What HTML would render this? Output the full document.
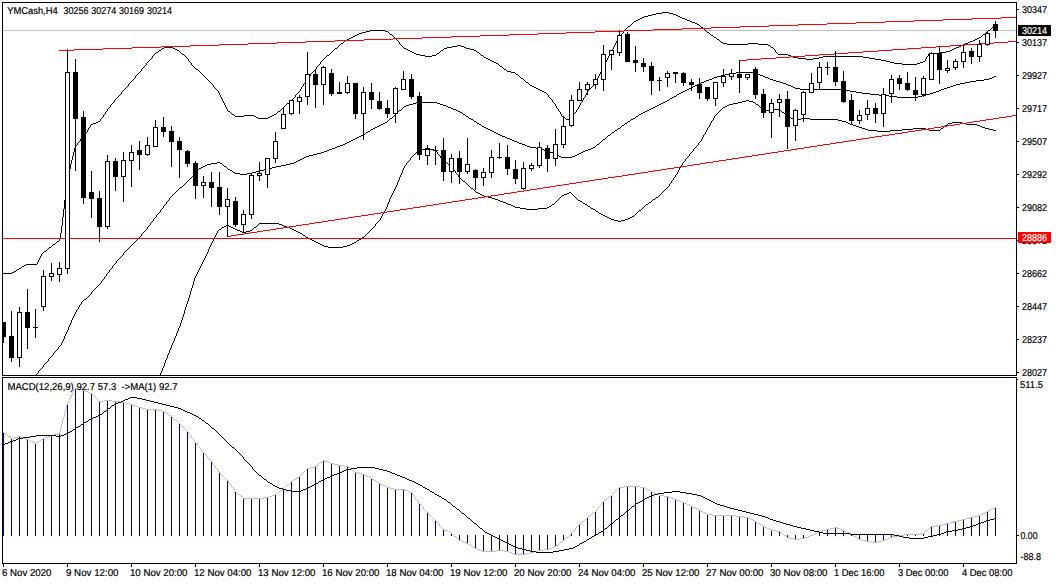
<!DOCTYPE html>
<html><head><meta charset="utf-8"><title>YMCash H4</title>
<style>html,body{margin:0;padding:0;background:#fff;}body{width:1057px;height:584px;overflow:hidden;}svg{display:block;}text{font-family:"Liberation Sans",sans-serif;font-size:10px;fill:#000;text-rendering:geometricPrecision;stroke:#000;stroke-width:0.2px;}</style>
</head><body>
<svg width="1057" height="584" viewBox="0 0 1057 584">
<rect x="0" y="0" width="1057" height="584" fill="#fff"/>
<g shape-rendering="crispEdges">
<rect x="3" y="30" width="1013" height="1" fill="#c0c0c0"/>
<path d="M3 273h9v1h-9zM12 272h2v1h-2zM14 271h2v1h-2zM16 270h1v1h-1zM17 269h2v1h-2zM19 268h2v1h-2zM21 267h1v1h-1zM22 266h2v1h-2zM24 265h2v1h-2zM26 264h11v1h-11zM37 262v2h1v-2zM38 260v2h1v-2zM39 258v2h1v-2zM40 256v2h1v-2zM41 254v2h1v-2zM42 253h1v1h-1zM43 252h1v1h-1zM44 251h2v1h-2zM46 250h1v1h-1zM47 249h1v1h-1zM48 248h1v1h-1zM49 247h2v1h-2zM51 246h1v1h-1zM52 245h1v1h-1zM53 244h2v1h-2zM55 243h1v1h-1zM56 242h1v1h-1zM57 241h2v1h-2zM59 238v3h1v-3zM60 233v5h1v-5zM61 226v7h1v-7zM62 217v9h1v-9zM63 209v8h1v-8zM64 200v9h1v-9zM65 193v7h1v-7zM66 187v6h1v-6zM67 181v6h1v-6zM68 175v6h1v-6zM69 169v6h1v-6zM70 164v5h1v-5zM71 160v4h1v-4zM72 156v4h1v-4zM73 152v4h1v-4zM74 148v4h1v-4zM75 146v2h1v-2zM76 145h1v1h-1zM77 143v2h1v-2zM78 142h1v1h-1zM79 141h1v1h-1zM80 139v2h1v-2zM81 138h1v1h-1zM82 137h1v1h-1zM83 136h1v1h-1zM84 134v2h1v-2zM85 133h1v1h-1zM86 132h1v1h-1zM87 130v2h1v-2zM88 128v2h1v-2zM89 127h1v1h-1zM90 125v2h1v-2zM91 124h2v1h-2zM93 123h3v1h-3zM96 122h2v1h-2zM98 121h2v1h-2zM100 119v2h1v-2zM101 118h1v1h-1zM102 117h1v1h-1zM103 115v2h1v-2zM104 114h1v1h-1zM105 112v2h1v-2zM106 111h1v1h-1zM107 109v2h1v-2zM108 108h1v1h-1zM109 107h1v1h-1zM110 105v2h1v-2zM111 104h1v1h-1zM112 103h1v1h-1zM113 102h1v1h-1zM114 100v2h1v-2zM115 99h1v1h-1zM116 98h1v1h-1zM117 97h1v1h-1zM118 96h1v1h-1zM119 95h1v1h-1zM120 94h1v1h-1zM121 92v2h1v-2zM122 91h1v1h-1zM123 90h1v1h-1zM124 89h1v1h-1zM125 88h1v1h-1zM126 87h1v1h-1zM127 86h1v1h-1zM128 84v2h1v-2zM129 83h1v1h-1zM130 82h1v1h-1zM131 81h1v1h-1zM132 80h1v1h-1zM133 79h1v1h-1zM134 78h1v1h-1zM135 76v2h1v-2zM136 75h1v1h-1zM137 74h1v1h-1zM138 73h1v1h-1zM139 72h1v1h-1zM140 71h1v1h-1zM141 69v2h1v-2zM142 68h1v1h-1zM143 67h1v1h-1zM144 66h1v1h-1zM145 65h1v1h-1zM146 63v2h1v-2zM147 62h1v1h-1zM148 61h1v1h-1zM149 60h1v1h-1zM150 59h1v1h-1zM151 58h1v1h-1zM152 56v2h1v-2zM153 55h1v1h-1zM154 54h1v1h-1zM155 53h1v1h-1zM156 52h2v1h-2zM158 51h1v1h-1zM159 50h2v1h-2zM161 49h1v1h-1zM162 48h2v1h-2zM164 47h9v1h-9zM173 48h2v1h-2zM175 49h2v1h-2zM177 50h2v1h-2zM179 51h1v1h-1zM180 52h1v1h-1zM181 53h1v1h-1zM182 54h2v1h-2zM184 55h1v1h-1zM185 56h1v1h-1zM186 57h1v1h-1zM187 58h1v1h-1zM188 59v2h1v-2zM189 61h1v1h-1zM190 62h1v1h-1zM191 63v2h1v-2zM192 65h1v1h-1zM193 66h1v1h-1zM194 67h1v1h-1zM195 68h1v1h-1zM196 69h2v1h-2zM198 70h1v1h-1zM199 71h1v1h-1zM200 72h1v1h-1zM201 73h1v1h-1zM202 74h1v1h-1zM203 75h1v1h-1zM204 76h1v1h-1zM205 77h1v1h-1zM206 78h1v1h-1zM207 79h1v1h-1zM208 80h1v1h-1zM209 81h1v1h-1zM210 82h1v1h-1zM211 83h1v1h-1zM212 84h1v1h-1zM213 85v2h1v-2zM214 87h1v1h-1zM215 88h1v1h-1zM216 89h1v1h-1zM217 90h1v1h-1zM218 91v2h1v-2zM219 93v2h1v-2zM220 95v2h1v-2zM221 97v2h1v-2zM222 99v2h1v-2zM223 101v2h1v-2zM224 103v2h1v-2zM225 105v2h1v-2zM226 107v2h1v-2zM227 109v2h1v-2zM228 111h2v1h-2zM230 112h1v1h-1zM231 113h1v1h-1zM232 114h2v1h-2zM234 115h1v1h-1zM235 116h9v1h-9zM244 115h10v1h-10zM254 116h2v1h-2zM256 117h2v1h-2zM258 118h10v1h-10zM268 117h2v1h-2zM270 116h2v1h-2zM272 115h2v1h-2zM274 114h2v1h-2zM276 113h1v1h-1zM277 112h1v1h-1zM278 111h2v1h-2zM280 110h1v1h-1zM281 109h1v1h-1zM282 108h1v1h-1zM283 107h1v1h-1zM284 106h1v1h-1zM285 105h1v1h-1zM286 104h1v1h-1zM287 103h2v1h-2zM289 102h1v1h-1zM290 101h1v1h-1zM291 100h1v1h-1zM292 99h1v1h-1zM293 98h1v1h-1zM294 97h1v1h-1zM295 95v2h1v-2zM296 94h1v1h-1zM297 93h1v1h-1zM298 92h1v1h-1zM299 91h1v1h-1zM300 89v2h1v-2zM301 87v2h1v-2zM302 86h1v1h-1zM303 84v2h1v-2zM304 83h1v1h-1zM305 81v2h1v-2zM306 79v2h1v-2zM307 78h1v1h-1zM308 77h1v1h-1zM309 76h1v1h-1zM310 74v2h1v-2zM311 73h1v1h-1zM312 72h1v1h-1zM313 71h1v1h-1zM314 70h1v1h-1zM315 69h1v1h-1zM316 67v2h1v-2zM317 66h1v1h-1zM318 65h1v1h-1zM319 64h1v1h-1zM320 62v2h1v-2zM321 61h1v1h-1zM322 60h1v1h-1zM323 59h1v1h-1zM324 58h1v1h-1zM325 57h1v1h-1zM326 56h1v1h-1zM327 55h2v1h-2zM329 54h1v1h-1zM330 53h1v1h-1zM331 52h1v1h-1zM332 51h1v1h-1zM333 50h1v1h-1zM334 49h1v1h-1zM335 48h2v1h-2zM337 47h1v1h-1zM338 46h1v1h-1zM339 45h1v1h-1zM340 44h1v1h-1zM341 43h2v1h-2zM343 42h1v1h-1zM344 41h1v1h-1zM345 40h2v1h-2zM347 39h2v1h-2zM349 38h2v1h-2zM351 37h2v1h-2zM353 36h2v1h-2zM355 35h2v1h-2zM357 34h2v1h-2zM359 33h3v1h-3zM362 32h4v1h-4zM366 31h4v1h-4zM370 30h15v1h-15zM385 31h3v1h-3zM388 32h1v1h-1zM389 33h1v1h-1zM390 34h2v1h-2zM392 35h1v1h-1zM393 36h1v1h-1zM394 37h1v1h-1zM395 38h1v1h-1zM396 39h1v1h-1zM397 40h1v1h-1zM398 41h1v1h-1zM399 42v2h1v-2zM400 44h1v1h-1zM401 45h1v1h-1zM402 46h1v1h-1zM403 47h1v1h-1zM404 48h2v1h-2zM406 49h2v1h-2zM408 50h2v1h-2zM410 51h2v1h-2zM412 52h2v1h-2zM414 53h2v1h-2zM416 54h4v1h-4zM420 55h5v1h-5zM425 56h7v1h-7zM432 55h4v1h-4zM436 54h1v1h-1zM437 53h2v1h-2zM439 52h1v1h-1zM440 51h1v1h-1zM441 50h2v1h-2zM443 49h1v1h-1zM444 48h3v1h-3zM447 47h5v1h-5zM452 46h5v1h-5zM457 45h4v1h-4zM461 46h3v1h-3zM464 47h2v1h-2zM466 48h4v1h-4zM470 49h4v1h-4zM474 50h2v1h-2zM476 51h1v1h-1zM477 52h2v1h-2zM479 53h1v1h-1zM480 54h1v1h-1zM481 55h2v1h-2zM483 56h1v1h-1zM484 57h2v1h-2zM486 58h2v1h-2zM488 59h2v1h-2zM490 60h2v1h-2zM492 61h2v1h-2zM494 62h2v1h-2zM496 63h2v1h-2zM498 64h1v1h-1zM499 65h1v1h-1zM500 66h2v1h-2zM502 67h1v1h-1zM503 68h1v1h-1zM504 69h2v1h-2zM506 70h1v1h-1zM507 71h4v1h-4zM511 72h4v1h-4zM515 73h1v1h-1zM516 74h2v1h-2zM518 75h1v1h-1zM519 76h1v1h-1zM520 77h1v1h-1zM521 78h2v1h-2zM523 79h1v1h-1zM524 80h1v1h-1zM525 81h1v1h-1zM526 82h2v1h-2zM528 83h1v1h-1zM529 84h1v1h-1zM530 85h2v1h-2zM532 86h2v1h-2zM534 87h2v1h-2zM536 88h2v1h-2zM538 89h2v1h-2zM540 90h2v1h-2zM542 91h2v1h-2zM544 92h2v1h-2zM546 93h1v1h-1zM547 94h1v1h-1zM548 95v2h1v-2zM549 97h1v1h-1zM550 98h1v1h-1zM551 99h1v1h-1zM552 100v2h1v-2zM553 102h1v1h-1zM554 103h1v1h-1zM555 104v2h1v-2zM556 106v2h1v-2zM557 108h1v1h-1zM558 109v2h1v-2zM559 111h1v1h-1zM560 112v2h1v-2zM561 114v2h1v-2zM562 116h1v1h-1zM563 117h2v1h-2zM565 118h1v1h-1zM566 119h5v1h-5zM571 117v2h1v-2zM572 116h1v1h-1zM573 114v2h1v-2zM574 113h1v1h-1zM575 112h1v1h-1zM576 110v2h1v-2zM577 109h1v1h-1zM578 107v2h1v-2zM579 105v2h1v-2zM580 103v2h1v-2zM581 102h1v1h-1zM582 100v2h1v-2zM583 98v2h1v-2zM584 97h1v1h-1zM585 95v2h1v-2zM586 93v2h1v-2zM587 91v2h1v-2zM588 90h1v1h-1zM589 89h1v1h-1zM590 88h1v1h-1zM591 87h1v1h-1zM592 86h1v1h-1zM593 85h1v1h-1zM594 84h1v1h-1zM595 82v2h1v-2zM596 80v2h1v-2zM597 78v2h1v-2zM598 76v2h1v-2zM599 74v2h1v-2zM600 72v2h1v-2zM601 70v2h1v-2zM602 68v2h1v-2zM603 66v2h1v-2zM604 64v2h1v-2zM605 62v2h1v-2zM606 60v2h1v-2zM607 58v2h1v-2zM608 56v2h1v-2zM609 54v2h1v-2zM610 52v2h1v-2zM611 50v2h1v-2zM612 49h1v1h-1zM613 47v2h1v-2zM614 45v2h1v-2zM615 43v2h1v-2zM616 41v2h1v-2zM617 40h1v1h-1zM618 38v2h1v-2zM619 37h1v1h-1zM620 35v2h1v-2zM621 34h1v1h-1zM622 33h1v1h-1zM623 31v2h1v-2zM624 30h1v1h-1zM625 29h1v1h-1zM626 28h1v1h-1zM627 27h1v1h-1zM628 26h2v1h-2zM630 25h1v1h-1zM631 24h1v1h-1zM632 23h1v1h-1zM633 22h1v1h-1zM634 21h2v1h-2zM636 20h2v1h-2zM638 19h2v1h-2zM640 18h2v1h-2zM642 17h2v1h-2zM644 16h4v1h-4zM648 15h4v1h-4zM652 14h4v1h-4zM656 13h6v1h-6zM662 12h7v1h-7zM669 13h4v1h-4zM673 14h3v1h-3zM676 15h2v1h-2zM678 16h2v1h-2zM680 17h2v1h-2zM682 18h3v1h-3zM685 19h2v1h-2zM687 20h3v1h-3zM690 21h2v1h-2zM692 22h3v1h-3zM695 23h2v1h-2zM697 24h2v1h-2zM699 25h1v1h-1zM700 26h1v1h-1zM701 27h2v1h-2zM703 28h1v1h-1zM704 29h1v1h-1zM705 30h1v1h-1zM706 31h1v1h-1zM707 32h2v1h-2zM709 33h1v1h-1zM710 34h1v1h-1zM711 35h2v1h-2zM713 36h1v1h-1zM714 37h2v1h-2zM716 38h1v1h-1zM717 39h2v1h-2zM719 40h1v1h-1zM720 41h1v1h-1zM721 42h2v1h-2zM723 43h4v1h-4zM727 44h21v1h-21zM748 43h10v1h-10zM758 44h10v1h-10zM768 45h2v1h-2zM770 46h1v1h-1zM771 47h2v1h-2zM773 48h1v1h-1zM774 49h1v1h-1zM775 50v2h1v-2zM776 52h1v1h-1zM777 53h1v1h-1zM778 54h10v1h-10zM788 55h3v1h-3zM791 56h2v1h-2zM793 57h5v1h-5zM798 58h8v1h-8zM806 59h7v1h-7zM813 58h6v1h-6zM819 57h4v1h-4zM823 56h40v1h-40zM863 57h6v1h-6zM869 58h6v1h-6zM875 59h6v1h-6zM881 60h5v1h-5zM886 61h4v1h-4zM890 62h4v1h-4zM894 63h8v1h-8zM902 64h15v1h-15zM917 63h3v1h-3zM920 62h3v1h-3zM923 61h2v1h-2zM925 59v2h1v-2zM926 57v2h1v-2zM927 56h1v1h-1zM928 54v2h1v-2zM929 53h11v1h-11zM940 52h6v1h-6zM946 51h4v1h-4zM950 50h2v1h-2zM952 49h2v1h-2zM954 48h2v1h-2zM956 47h3v1h-3zM959 46h2v1h-2zM961 45h2v1h-2zM963 44h2v1h-2zM965 43h3v1h-3zM968 42h2v1h-2zM970 41h3v1h-3zM973 40h2v1h-2zM975 39h2v1h-2zM977 38h2v1h-2zM979 37h2v1h-2zM981 36h1v1h-1zM982 35h1v1h-1zM983 34h2v1h-2zM985 33h1v1h-1zM986 32h1v1h-1zM987 31h1v1h-1zM988 30h2v1h-2zM990 29h1v1h-1zM991 28h1v1h-1zM992 27h2v1h-2zM994 26h1v1h-1zM995 25h1v1h-1z" fill="#000"/>
<path d="M36 374h1v1h-1zM37 373h1v1h-1zM38 371v2h1v-2zM39 370h1v1h-1zM40 369h1v1h-1zM41 368h1v1h-1zM42 367h1v1h-1zM43 365v2h1v-2zM44 364h1v1h-1zM45 363h1v1h-1zM46 362h1v1h-1zM47 361h1v1h-1zM48 359v2h1v-2zM49 358h1v1h-1zM50 357h1v1h-1zM51 356h1v1h-1zM52 355h1v1h-1zM53 353v2h1v-2zM54 352h1v1h-1zM55 351h1v1h-1zM56 350h1v1h-1zM57 349h1v1h-1zM58 347v2h1v-2zM59 346h1v1h-1zM60 345h1v1h-1zM61 343v2h1v-2zM62 341v2h1v-2zM63 339v2h1v-2zM64 336v3h1v-3zM65 334v2h1v-2zM66 332v2h1v-2zM67 330v2h1v-2zM68 327v3h1v-3zM69 325v2h1v-2zM70 323v2h1v-2zM71 320v3h1v-3zM72 318v2h1v-2zM73 316v2h1v-2zM74 314v2h1v-2zM75 312v2h1v-2zM76 310v2h1v-2zM77 309h1v1h-1zM78 307v2h1v-2zM79 305v2h1v-2zM80 304h1v1h-1zM81 302v2h1v-2zM82 301h1v1h-1zM83 300h1v1h-1zM84 299h2v1h-2zM86 298h1v1h-1zM87 297h1v1h-1zM88 296h1v1h-1zM89 295h1v1h-1zM90 294h1v1h-1zM91 292v2h1v-2zM92 291h1v1h-1zM93 290h1v1h-1zM94 289h1v1h-1zM95 288h1v1h-1zM96 287h1v1h-1zM97 286h1v1h-1zM98 285h1v1h-1zM99 284h1v1h-1zM100 283h1v1h-1zM101 281v2h1v-2zM102 280h1v1h-1zM103 279h1v1h-1zM104 277v2h1v-2zM105 276h1v1h-1zM106 274v2h1v-2zM107 273h1v1h-1zM108 272h1v1h-1zM109 270v2h1v-2zM110 269h1v1h-1zM111 268h1v1h-1zM112 266v2h1v-2zM113 265h1v1h-1zM114 264h1v1h-1zM115 263h1v1h-1zM116 261v2h1v-2zM117 260h1v1h-1zM118 259h1v1h-1zM119 258h1v1h-1zM120 257h1v1h-1zM121 256h1v1h-1zM122 255h1v1h-1zM123 253v2h1v-2zM124 252h1v1h-1zM125 251h1v1h-1zM126 250h1v1h-1zM127 249h1v1h-1zM128 248h1v1h-1zM129 247h1v1h-1zM130 246h1v1h-1zM131 245h1v1h-1zM132 244h1v1h-1zM133 243h1v1h-1zM134 242h1v1h-1zM135 241h1v1h-1zM136 240h1v1h-1zM137 239h1v1h-1zM138 238h1v1h-1zM139 237h1v1h-1zM140 236h1v1h-1zM141 234v2h1v-2zM142 233h1v1h-1zM143 232h1v1h-1zM144 231h1v1h-1zM145 230h1v1h-1zM146 229h1v1h-1zM147 227v2h1v-2zM148 226h1v1h-1zM149 225h1v1h-1zM150 223v2h1v-2zM151 222h1v1h-1zM152 221h1v1h-1zM153 219v2h1v-2zM154 218h1v1h-1zM155 217h1v1h-1zM156 215v2h1v-2zM157 214h1v1h-1zM158 213h1v1h-1zM159 212h1v1h-1zM160 210v2h1v-2zM161 209h1v1h-1zM162 208h1v1h-1zM163 206v2h1v-2zM164 205h1v1h-1zM165 204h1v1h-1zM166 202v2h1v-2zM167 201h1v1h-1zM168 200h1v1h-1zM169 198v2h1v-2zM170 197h1v1h-1zM171 196h1v1h-1zM172 195h1v1h-1zM173 194h1v1h-1zM174 193h1v1h-1zM175 192h1v1h-1zM176 191h1v1h-1zM177 190h1v1h-1zM178 189h1v1h-1zM179 188h1v1h-1zM180 187h2v1h-2zM182 186h1v1h-1zM183 185h1v1h-1zM184 184h1v1h-1zM185 183h1v1h-1zM186 182h1v1h-1zM187 181h1v1h-1zM188 180h1v1h-1zM189 179h1v1h-1zM190 178h1v1h-1zM191 177h1v1h-1zM192 176h1v1h-1zM193 175h1v1h-1zM194 173v2h1v-2zM195 172h1v1h-1zM196 171h1v1h-1zM197 170h1v1h-1zM198 169h1v1h-1zM199 168h2v1h-2zM201 167h2v1h-2zM203 166h2v1h-2zM205 165h2v1h-2zM207 164h4v1h-4zM211 163h6v1h-6zM217 162h3v1h-3zM220 163h2v1h-2zM222 164h1v1h-1zM223 165h1v1h-1zM224 166h2v1h-2zM226 167h1v1h-1zM227 168h1v1h-1zM228 169h2v1h-2zM230 170h2v1h-2zM232 171h1v1h-1zM233 172h2v1h-2zM235 173h5v1h-5zM240 174h7v1h-7zM247 173h5v1h-5zM252 172h4v1h-4zM256 171h4v1h-4zM260 170h4v1h-4zM264 169h4v1h-4zM268 168h4v1h-4zM272 167h4v1h-4zM276 166h5v1h-5zM281 165h5v1h-5zM286 164h4v1h-4zM290 163h4v1h-4zM294 162h2v1h-2zM296 161h2v1h-2zM298 160h2v1h-2zM300 159h2v1h-2zM302 158h2v1h-2zM304 157h2v1h-2zM306 156h3v1h-3zM309 155h4v1h-4zM313 154h4v1h-4zM317 153h4v1h-4zM321 152h3v1h-3zM324 151h3v1h-3zM327 150h2v1h-2zM329 149h3v1h-3zM332 148h3v1h-3zM335 147h2v1h-2zM337 146h3v1h-3zM340 145h3v1h-3zM343 144h2v1h-2zM345 143h2v1h-2zM347 142h2v1h-2zM349 141h2v1h-2zM351 140h2v1h-2zM353 139h2v1h-2zM355 138h2v1h-2zM357 137h2v1h-2zM359 136h2v1h-2zM361 135h2v1h-2zM363 134h2v1h-2zM365 133h1v1h-1zM366 132h2v1h-2zM368 131h2v1h-2zM370 130h1v1h-1zM371 129h2v1h-2zM373 128h2v1h-2zM375 127h2v1h-2zM377 126h2v1h-2zM379 125h2v1h-2zM381 124h2v1h-2zM383 123h2v1h-2zM385 122h2v1h-2zM387 121h1v1h-1zM388 120h1v1h-1zM389 119h1v1h-1zM390 118h2v1h-2zM392 117h1v1h-1zM393 116h1v1h-1zM394 115h1v1h-1zM395 114h1v1h-1zM396 113h1v1h-1zM397 112h1v1h-1zM398 111h1v1h-1zM399 110h2v1h-2zM401 109h1v1h-1zM402 108h1v1h-1zM403 107h1v1h-1zM404 106h2v1h-2zM406 105h3v1h-3zM409 104h4v1h-4zM413 103h3v1h-3zM416 102h21v1h-21zM437 103h3v1h-3zM440 104h3v1h-3zM443 105h3v1h-3zM446 106h2v1h-2zM448 107h3v1h-3zM451 108h2v1h-2zM453 109h3v1h-3zM456 110h2v1h-2zM458 111h2v1h-2zM460 112h2v1h-2zM462 113h1v1h-1zM463 114h2v1h-2zM465 115h1v1h-1zM466 116h2v1h-2zM468 117h1v1h-1zM469 118h2v1h-2zM471 119h2v1h-2zM473 120h1v1h-1zM474 121h2v1h-2zM476 122h1v1h-1zM477 123h2v1h-2zM479 124h2v1h-2zM481 125h1v1h-1zM482 126h2v1h-2zM484 127h2v1h-2zM486 128h2v1h-2zM488 129h2v1h-2zM490 130h2v1h-2zM492 131h2v1h-2zM494 132h2v1h-2zM496 133h2v1h-2zM498 134h2v1h-2zM500 135h2v1h-2zM502 136h3v1h-3zM505 137h2v1h-2zM507 138h3v1h-3zM510 139h2v1h-2zM512 140h2v1h-2zM514 141h3v1h-3zM517 142h2v1h-2zM519 143h3v1h-3zM522 144h3v1h-3zM525 145h2v1h-2zM527 146h3v1h-3zM530 147h6v1h-6zM536 148h5v1h-5zM541 149h3v1h-3zM544 150h3v1h-3zM547 151h3v1h-3zM550 152h3v1h-3zM553 153h2v1h-2zM555 154h2v1h-2zM557 155h2v1h-2zM559 156h2v1h-2zM561 157h11v1h-11zM572 156h3v1h-3zM575 155h2v1h-2zM577 154h2v1h-2zM579 153h2v1h-2zM581 152h2v1h-2zM583 151h2v1h-2zM585 150h3v1h-3zM588 149h3v1h-3zM591 148h2v1h-2zM593 147h2v1h-2zM595 146h1v1h-1zM596 145h1v1h-1zM597 144h2v1h-2zM599 143h1v1h-1zM600 142h1v1h-1zM601 141h1v1h-1zM602 140h1v1h-1zM603 139h2v1h-2zM605 138h1v1h-1zM606 137h1v1h-1zM607 136h1v1h-1zM608 135h2v1h-2zM610 134h1v1h-1zM611 133h1v1h-1zM612 132h2v1h-2zM614 131h1v1h-1zM615 130h2v1h-2zM617 129h1v1h-1zM618 128h2v1h-2zM620 127h1v1h-1zM621 126h1v1h-1zM622 125h2v1h-2zM624 124h1v1h-1zM625 123h2v1h-2zM627 122h1v1h-1zM628 121h2v1h-2zM630 120h1v1h-1zM631 119h2v1h-2zM633 118h2v1h-2zM635 117h1v1h-1zM636 116h2v1h-2zM638 115h1v1h-1zM639 114h2v1h-2zM641 113h2v1h-2zM643 112h2v1h-2zM645 111h2v1h-2zM647 110h2v1h-2zM649 109h2v1h-2zM651 108h2v1h-2zM653 107h2v1h-2zM655 106h2v1h-2zM657 105h2v1h-2zM659 104h2v1h-2zM661 103h2v1h-2zM663 102h2v1h-2zM665 101h2v1h-2zM667 100h2v1h-2zM669 99h1v1h-1zM670 98h2v1h-2zM672 97h2v1h-2zM674 96h2v1h-2zM676 95h1v1h-1zM677 94h2v1h-2zM679 93h2v1h-2zM681 92h2v1h-2zM683 91h2v1h-2zM685 90h2v1h-2zM687 89h2v1h-2zM689 88h2v1h-2zM691 87h2v1h-2zM693 86h2v1h-2zM695 85h2v1h-2zM697 84h2v1h-2zM699 83h2v1h-2zM701 82h3v1h-3zM704 81h2v1h-2zM706 80h3v1h-3zM709 79h3v1h-3zM712 78h2v1h-2zM714 77h3v1h-3zM717 76h4v1h-4zM721 75h4v1h-4zM725 74h4v1h-4zM729 73h7v1h-7zM736 72h17v1h-17zM753 73h4v1h-4zM757 74h3v1h-3zM760 75h3v1h-3zM763 76h2v1h-2zM765 77h3v1h-3zM768 78h2v1h-2zM770 79h3v1h-3zM773 80h3v1h-3zM776 81h4v1h-4zM780 82h3v1h-3zM783 83h3v1h-3zM786 84h2v1h-2zM788 85h3v1h-3zM791 86h2v1h-2zM793 87h2v1h-2zM795 88h5v1h-5zM800 89h42v1h-42zM842 90h8v1h-8zM850 91h6v1h-6zM856 92h6v1h-6zM862 93h8v1h-8zM870 94h9v1h-9zM879 95h10v1h-10zM889 96h8v1h-8zM897 97h21v1h-21zM918 96h4v1h-4zM922 95h4v1h-4zM926 94h4v1h-4zM930 93h3v1h-3zM933 92h3v1h-3zM936 91h3v1h-3zM939 90h2v1h-2zM941 89h3v1h-3zM944 88h3v1h-3zM947 87h3v1h-3zM950 86h3v1h-3zM953 85h3v1h-3zM956 84h4v1h-4zM960 83h5v1h-5zM965 82h5v1h-5zM970 81h6v1h-6zM976 80h8v1h-8zM984 79h5v1h-5zM989 78h3v1h-3zM992 77h2v1h-2zM994 76h2v1h-2z" fill="#000"/>
<path d="M160 373v2h1v-2zM161 371v2h1v-2zM162 368v3h1v-3zM163 366v2h1v-2zM164 363v3h1v-3zM165 360v3h1v-3zM166 358v2h1v-2zM167 355v3h1v-3zM168 353v2h1v-2zM169 350v3h1v-3zM170 348v2h1v-2zM171 345v3h1v-3zM172 343v2h1v-2zM173 341v2h1v-2zM174 338v3h1v-3zM175 336v2h1v-2zM176 333v3h1v-3zM177 331v2h1v-2zM178 328v3h1v-3zM179 326v2h1v-2zM180 323v3h1v-3zM181 320v3h1v-3zM182 317v3h1v-3zM183 314v3h1v-3zM184 310v4h1v-4zM185 307v3h1v-3zM186 304v3h1v-3zM187 301v3h1v-3zM188 298v3h1v-3zM189 295v3h1v-3zM190 291v4h1v-4zM191 288v3h1v-3zM192 285v3h1v-3zM193 281v4h1v-4zM194 278v3h1v-3zM195 276v2h1v-2zM196 274v2h1v-2zM197 272v2h1v-2zM198 270v2h1v-2zM199 268v2h1v-2zM200 266v2h1v-2zM201 264v2h1v-2zM202 262v2h1v-2zM203 260v2h1v-2zM204 258v2h1v-2zM205 256v2h1v-2zM206 254v2h1v-2zM207 252v2h1v-2zM208 249v3h1v-3zM209 247v2h1v-2zM210 245v2h1v-2zM211 243v2h1v-2zM212 241v2h1v-2zM213 239v2h1v-2zM214 237v2h1v-2zM215 235v2h1v-2zM216 233v2h1v-2zM217 231v2h1v-2zM218 230h1v1h-1zM219 229h2v1h-2zM221 228h1v1h-1zM222 227h2v1h-2zM224 226h2v1h-2zM226 225h3v1h-3zM229 226h2v1h-2zM231 227h2v1h-2zM233 228h2v1h-2zM235 229h2v1h-2zM237 230h3v1h-3zM240 231h2v1h-2zM242 232h4v1h-4zM246 231h4v1h-4zM250 230h2v1h-2zM252 229h1v1h-1zM253 228h1v1h-1zM254 227h2v1h-2zM256 226h1v1h-1zM257 225h1v1h-1zM258 224h1v1h-1zM259 223h20v1h-20zM279 224h3v1h-3zM282 225h2v1h-2zM284 226h3v1h-3zM287 227h3v1h-3zM290 228h2v1h-2zM292 229h2v1h-2zM294 230h2v1h-2zM296 231h2v1h-2zM298 232h2v1h-2zM300 233h2v1h-2zM302 234h1v1h-1zM303 235h2v1h-2zM305 236h1v1h-1zM306 237h2v1h-2zM308 238h2v1h-2zM310 239h2v1h-2zM312 240h2v1h-2zM314 241h2v1h-2zM316 242h2v1h-2zM318 243h2v1h-2zM320 244h2v1h-2zM322 245h2v1h-2zM324 246h4v1h-4zM328 247h15v1h-15zM343 246h4v1h-4zM347 245h3v1h-3zM350 244h2v1h-2zM352 243h2v1h-2zM354 242h2v1h-2zM356 241h1v1h-1zM357 240h2v1h-2zM359 239h2v1h-2zM361 238h1v1h-1zM362 237h2v1h-2zM364 236h1v1h-1zM365 235h1v1h-1zM366 234h1v1h-1zM367 233h1v1h-1zM368 232h1v1h-1zM369 231h1v1h-1zM370 230h1v1h-1zM371 229h1v1h-1zM372 228h1v1h-1zM373 227h1v1h-1zM374 226h1v1h-1zM375 224v2h1v-2zM376 223h1v1h-1zM377 222h1v1h-1zM378 221h1v1h-1zM379 220h1v1h-1zM380 218v2h1v-2zM381 216v2h1v-2zM382 214v2h1v-2zM383 213h1v1h-1zM384 211v2h1v-2zM385 209v2h1v-2zM386 207v2h1v-2zM387 204v3h1v-3zM388 202v2h1v-2zM389 199v3h1v-3zM390 197v2h1v-2zM391 195v2h1v-2zM392 193v2h1v-2zM393 191v2h1v-2zM394 189v2h1v-2zM395 187v2h1v-2zM396 185v2h1v-2zM397 182v3h1v-3zM398 180v2h1v-2zM399 177v3h1v-3zM400 175v2h1v-2zM401 173v2h1v-2zM402 170v3h1v-3zM403 168v2h1v-2zM404 166v2h1v-2zM405 165h1v1h-1zM406 163v2h1v-2zM407 162h1v1h-1zM408 161h1v1h-1zM409 160h1v1h-1zM410 158v2h1v-2zM411 157h1v1h-1zM412 156h1v1h-1zM413 155h1v1h-1zM414 154h1v1h-1zM415 153h1v1h-1zM416 152h1v1h-1zM417 151h1v1h-1zM418 150h3v1h-3zM421 149h4v1h-4zM425 148h5v1h-5zM430 149h4v1h-4zM434 150h2v1h-2zM436 151h1v1h-1zM437 152v2h1v-2zM438 154h1v1h-1zM439 155h1v1h-1zM440 156v2h1v-2zM441 158h1v1h-1zM442 159h1v1h-1zM443 160h1v1h-1zM444 161h2v1h-2zM446 162h1v1h-1zM447 163h1v1h-1zM448 164h2v1h-2zM450 165h1v1h-1zM451 166h1v1h-1zM452 167v2h1v-2zM453 169h1v1h-1zM454 170h1v1h-1zM455 171v2h1v-2zM456 173h1v1h-1zM457 174h1v1h-1zM458 175v2h1v-2zM459 177h1v1h-1zM460 178h1v1h-1zM461 179h1v1h-1zM462 180h1v1h-1zM463 181h2v1h-2zM465 182h1v1h-1zM466 183h1v1h-1zM467 184h1v1h-1zM468 185h1v1h-1zM469 186h1v1h-1zM470 187h1v1h-1zM471 188h2v1h-2zM473 189h1v1h-1zM474 190h1v1h-1zM475 191h1v1h-1zM476 192h2v1h-2zM478 193h2v1h-2zM480 194h2v1h-2zM482 195h2v1h-2zM484 196h4v1h-4zM488 197h4v1h-4zM492 198h3v1h-3zM495 199h3v1h-3zM498 200h2v1h-2zM500 201h3v1h-3zM503 202h3v1h-3zM506 203h2v1h-2zM508 204h3v1h-3zM511 205h2v1h-2zM513 206h2v1h-2zM515 207h5v1h-5zM520 208h6v1h-6zM526 209h12v1h-12zM538 208h9v1h-9zM547 207h2v1h-2zM549 206h2v1h-2zM551 205h1v1h-1zM552 204h2v1h-2zM554 203h1v1h-1zM555 202h1v1h-1zM556 201h1v1h-1zM557 200h1v1h-1zM558 199h1v1h-1zM559 198h1v1h-1zM560 197h1v1h-1zM561 196h1v1h-1zM562 195h2v1h-2zM564 194h3v1h-3zM567 193h2v1h-2zM569 192h2v1h-2zM571 193h1v1h-1zM572 194h1v1h-1zM573 195h1v1h-1zM574 196h1v1h-1zM575 197h1v1h-1zM576 198h1v1h-1zM577 199h1v1h-1zM578 200h2v1h-2zM580 201h2v1h-2zM582 202h1v1h-1zM583 203h2v1h-2zM585 204h2v1h-2zM587 205h1v1h-1zM588 206h2v1h-2zM590 207h1v1h-1zM591 208h2v1h-2zM593 209h2v1h-2zM595 210h1v1h-1zM596 211h2v1h-2zM598 212h1v1h-1zM599 213h2v1h-2zM601 214h2v1h-2zM603 215h2v1h-2zM605 216h2v1h-2zM607 217h2v1h-2zM609 218h2v1h-2zM611 219h3v1h-3zM614 220h4v1h-4zM618 221h3v1h-3zM621 220h4v1h-4zM625 219h3v1h-3zM628 218h2v1h-2zM630 217h2v1h-2zM632 216h2v1h-2zM634 215h1v1h-1zM635 214h1v1h-1zM636 213h1v1h-1zM637 212h1v1h-1zM638 211h1v1h-1zM639 210h2v1h-2zM641 209h1v1h-1zM642 208h1v1h-1zM643 207h1v1h-1zM644 206h1v1h-1zM645 205h1v1h-1zM646 204h2v1h-2zM648 203h1v1h-1zM649 202h2v1h-2zM651 201h1v1h-1zM652 200h1v1h-1zM653 199h2v1h-2zM655 198h1v1h-1zM656 197h2v1h-2zM658 196h1v1h-1zM659 195h1v1h-1zM660 194h1v1h-1zM661 193h1v1h-1zM662 192h1v1h-1zM663 191h1v1h-1zM664 190h1v1h-1zM665 189h1v1h-1zM666 188h1v1h-1zM667 187h1v1h-1zM668 186h1v1h-1zM669 184v2h1v-2zM670 183h1v1h-1zM671 181v2h1v-2zM672 180h1v1h-1zM673 178v2h1v-2zM674 177h1v1h-1zM675 175v2h1v-2zM676 174h1v1h-1zM677 172v2h1v-2zM678 170v2h1v-2zM679 168v2h1v-2zM680 167h1v1h-1zM681 165v2h1v-2zM682 163v2h1v-2zM683 162h1v1h-1zM684 161h1v1h-1zM685 159v2h1v-2zM686 158h1v1h-1zM687 157h1v1h-1zM688 156h1v1h-1zM689 154v2h1v-2zM690 153h1v1h-1zM691 152h1v1h-1zM692 151h1v1h-1zM693 149v2h1v-2zM694 148h1v1h-1zM695 147h1v1h-1zM696 146h1v1h-1zM697 145h1v1h-1zM698 143v2h1v-2zM699 142h1v1h-1zM700 141h1v1h-1zM701 139v2h1v-2zM702 137v2h1v-2zM703 135v2h1v-2zM704 134h1v1h-1zM705 132v2h1v-2zM706 130v2h1v-2zM707 128v2h1v-2zM708 127h1v1h-1zM709 125v2h1v-2zM710 123v2h1v-2zM711 121v2h1v-2zM712 120h1v1h-1zM713 118v2h1v-2zM714 116v2h1v-2zM715 115h1v1h-1zM716 114h1v1h-1zM717 113h1v1h-1zM718 112h1v1h-1zM719 111h1v1h-1zM720 110h1v1h-1zM721 109h1v1h-1zM722 108h1v1h-1zM723 107h2v1h-2zM725 106h2v1h-2zM727 105h2v1h-2zM729 104h4v1h-4zM733 103h5v1h-5zM738 102h4v1h-4zM742 101h4v1h-4zM746 100h3v1h-3zM749 101h4v1h-4zM753 102h2v1h-2zM755 103h1v1h-1zM756 104h2v1h-2zM758 105h1v1h-1zM759 106h1v1h-1zM760 107h1v1h-1zM761 108h2v1h-2zM763 109h1v1h-1zM764 110h8v1h-8zM772 109h7v1h-7zM779 110h2v1h-2zM781 111h1v1h-1zM782 112h2v1h-2zM784 113h1v1h-1zM785 114h2v1h-2zM787 115h1v1h-1zM788 116h1v1h-1zM789 117h2v1h-2zM791 118h4v1h-4zM795 119h6v1h-6zM801 118h9v1h-9zM810 119h28v1h-28zM838 120h4v1h-4zM842 121h4v1h-4zM846 122h2v1h-2zM848 123h2v1h-2zM850 124h3v1h-3zM853 125h3v1h-3zM856 126h3v1h-3zM859 127h3v1h-3zM862 128h3v1h-3zM865 129h3v1h-3zM868 130h9v1h-9zM877 131h13v1h-13zM890 130h12v1h-12zM902 129h11v1h-11zM913 128h13v1h-13zM926 129h3v1h-3zM929 130h11v1h-11zM940 129h1v1h-1zM941 128h2v1h-2zM943 127h1v1h-1zM944 126h1v1h-1zM945 125h2v1h-2zM947 124h1v1h-1zM948 123h4v1h-4zM952 122h10v1h-10zM962 123h4v1h-4zM966 124h11v1h-11zM977 125h3v1h-3zM980 126h2v1h-2zM982 127h3v1h-3zM985 128h4v1h-4zM989 129h4v1h-4zM993 130h3v1h-3z" fill="#000"/>
<rect x="3" y="238" width="1013" height="1" fill="#ff0000"/>
<path d="M59 50h15v1h-15zM74 49h29v1h-29zM103 48h29v1h-29zM132 47h29v1h-29zM161 46h29v1h-29zM190 45h29v1h-29zM219 44h29v1h-29zM248 43h29v1h-29zM277 42h29v1h-29zM306 41h29v1h-29zM335 40h29v1h-29zM364 39h29v1h-29zM393 38h29v1h-29zM422 37h29v1h-29zM451 36h29v1h-29zM480 35h29v1h-29zM509 34h29v1h-29zM538 33h28v1h-28zM566 32h29v1h-29zM595 31h29v1h-29zM624 30h29v1h-29zM653 29h29v1h-29zM682 28h29v1h-29zM711 27h29v1h-29zM740 26h29v1h-29zM769 25h29v1h-29zM798 24h29v1h-29zM827 23h29v1h-29zM856 22h29v1h-29zM885 21h29v1h-29zM914 20h29v1h-29zM943 19h29v1h-29zM972 18h29v1h-29zM1001 17h15v1h-15z" fill="#ff0000"/>
<path d="M227 236h4v1h-4zM231 235h6v1h-6zM237 234h7v1h-7zM244 233h6v1h-6zM250 232h7v1h-7zM257 231h6v1h-6zM263 230h7v1h-7zM270 229h6v1h-6zM276 228h7v1h-7zM283 227h6v1h-6zM289 226h7v1h-7zM296 225h6v1h-6zM302 224h7v1h-7zM309 223h6v1h-6zM315 222h7v1h-7zM322 221h6v1h-6zM328 220h7v1h-7zM335 219h6v1h-6zM341 218h7v1h-7zM348 217h6v1h-6zM354 216h7v1h-7zM361 215h7v1h-7zM368 214h6v1h-6zM374 213h7v1h-7zM381 212h6v1h-6zM387 211h7v1h-7zM394 210h6v1h-6zM400 209h7v1h-7zM407 208h6v1h-6zM413 207h7v1h-7zM420 206h6v1h-6zM426 205h7v1h-7zM433 204h6v1h-6zM439 203h7v1h-7zM446 202h6v1h-6zM452 201h7v1h-7zM459 200h6v1h-6zM465 199h7v1h-7zM472 198h6v1h-6zM478 197h7v1h-7zM485 196h6v1h-6zM491 195h7v1h-7zM498 194h6v1h-6zM504 193h7v1h-7zM511 192h6v1h-6zM517 191h7v1h-7zM524 190h6v1h-6zM530 189h7v1h-7zM537 188h6v1h-6zM543 187h7v1h-7zM550 186h6v1h-6zM556 185h7v1h-7zM563 184h6v1h-6zM569 183h7v1h-7zM576 182h6v1h-6zM582 181h7v1h-7zM589 180h6v1h-6zM595 179h7v1h-7zM602 178h6v1h-6zM608 177h7v1h-7zM615 176h7v1h-7zM622 175h6v1h-6zM628 174h7v1h-7zM635 173h6v1h-6zM641 172h7v1h-7zM648 171h6v1h-6zM654 170h7v1h-7zM661 169h6v1h-6zM667 168h7v1h-7zM674 167h6v1h-6zM680 166h7v1h-7zM687 165h6v1h-6zM693 164h7v1h-7zM700 163h6v1h-6zM706 162h7v1h-7zM713 161h6v1h-6zM719 160h7v1h-7zM726 159h6v1h-6zM732 158h7v1h-7zM739 157h6v1h-6zM745 156h7v1h-7zM752 155h6v1h-6zM758 154h7v1h-7zM765 153h6v1h-6zM771 152h7v1h-7zM778 151h6v1h-6zM784 150h7v1h-7zM791 149h6v1h-6zM797 148h7v1h-7zM804 147h6v1h-6zM810 146h7v1h-7zM817 145h6v1h-6zM823 144h7v1h-7zM830 143h6v1h-6zM836 142h7v1h-7zM843 141h6v1h-6zM849 140h7v1h-7zM856 139h6v1h-6zM862 138h7v1h-7zM869 137h6v1h-6zM875 136h7v1h-7zM882 135h7v1h-7zM889 134h6v1h-6zM895 133h7v1h-7zM902 132h6v1h-6zM908 131h7v1h-7zM915 130h6v1h-6zM921 129h7v1h-7zM928 128h6v1h-6zM934 127h7v1h-7zM941 126h6v1h-6zM947 125h7v1h-7zM954 124h6v1h-6zM960 123h7v1h-7zM967 122h6v1h-6zM973 121h7v1h-7zM980 120h6v1h-6zM986 119h7v1h-7zM993 118h6v1h-6zM999 117h7v1h-7zM1006 116h6v1h-6zM1012 115h4v1h-4z" fill="#ff0000"/>
<path d="M739 60h8v1h-8zM747 59h14v1h-14zM761 58h15v1h-15zM776 57h14v1h-14zM790 56h15v1h-15zM805 55h14v1h-14zM819 54h15v1h-15zM834 53h14v1h-14zM848 52h15v1h-15zM863 51h15v1h-15zM878 50h14v1h-14zM892 49h15v1h-15zM907 48h14v1h-14zM921 47h15v1h-15zM936 46h14v1h-14zM950 45h15v1h-15zM965 44h14v1h-14zM979 43h15v1h-15zM994 42h14v1h-14zM1008 41h8v1h-8z" fill="#ff0000"/>
<rect x="3" y="322" width="1" height="21" fill="#000"/>
<rect x="3" y="322" width="3" height="15" fill="#000"/>
<rect x="11" y="311" width="1" height="51" fill="#000"/>
<rect x="9" y="336" width="5" height="22" fill="#000"/>
<rect x="19" y="307" width="1" height="60" fill="#000"/>
<rect x="17" y="312" width="5" height="46" fill="#000"/>
<rect x="18" y="313" width="3" height="44" fill="#fff"/>
<rect x="27" y="289" width="1" height="60" fill="#000"/>
<rect x="25" y="312" width="5" height="16" fill="#000"/>
<rect x="35" y="309" width="1" height="29" fill="#000"/>
<rect x="33" y="327" width="5" height="1" fill="#000"/>
<rect x="43" y="270" width="1" height="41" fill="#000"/>
<rect x="41" y="276" width="5" height="31" fill="#000"/>
<rect x="42" y="277" width="3" height="29" fill="#fff"/>
<rect x="51" y="263" width="1" height="18" fill="#000"/>
<rect x="49" y="273" width="5" height="4" fill="#000"/>
<rect x="50" y="274" width="3" height="2" fill="#fff"/>
<rect x="59" y="262" width="1" height="20" fill="#000"/>
<rect x="57" y="268" width="5" height="7" fill="#000"/>
<rect x="58" y="269" width="3" height="5" fill="#fff"/>
<rect x="67" y="49" width="1" height="225" fill="#000"/>
<rect x="65" y="72" width="5" height="197" fill="#000"/>
<rect x="66" y="73" width="3" height="195" fill="#fff"/>
<rect x="75" y="59" width="1" height="112" fill="#000"/>
<rect x="73" y="72" width="5" height="47" fill="#000"/>
<rect x="83" y="111" width="1" height="93" fill="#000"/>
<rect x="81" y="117" width="5" height="81" fill="#000"/>
<rect x="91" y="171" width="1" height="47" fill="#000"/>
<rect x="89" y="192" width="5" height="7" fill="#000"/>
<rect x="99" y="191" width="1" height="51" fill="#000"/>
<rect x="97" y="198" width="5" height="29" fill="#000"/>
<rect x="107" y="155" width="1" height="74" fill="#000"/>
<rect x="105" y="161" width="5" height="66" fill="#000"/>
<rect x="106" y="162" width="3" height="64" fill="#fff"/>
<rect x="115" y="158" width="1" height="33" fill="#000"/>
<rect x="113" y="161" width="5" height="16" fill="#000"/>
<rect x="123" y="152" width="1" height="50" fill="#000"/>
<rect x="121" y="160" width="5" height="17" fill="#000"/>
<rect x="122" y="161" width="3" height="15" fill="#fff"/>
<rect x="131" y="145" width="1" height="42" fill="#000"/>
<rect x="129" y="152" width="5" height="9" fill="#000"/>
<rect x="130" y="153" width="3" height="7" fill="#fff"/>
<rect x="139" y="141" width="1" height="29" fill="#000"/>
<rect x="137" y="150" width="5" height="5" fill="#000"/>
<rect x="147" y="137" width="1" height="19" fill="#000"/>
<rect x="145" y="145" width="5" height="10" fill="#000"/>
<rect x="146" y="146" width="3" height="8" fill="#fff"/>
<rect x="155" y="120" width="1" height="27" fill="#000"/>
<rect x="153" y="127" width="5" height="20" fill="#000"/>
<rect x="154" y="128" width="3" height="18" fill="#fff"/>
<rect x="163" y="117" width="1" height="20" fill="#000"/>
<rect x="161" y="127" width="5" height="5" fill="#000"/>
<rect x="171" y="126" width="1" height="41" fill="#000"/>
<rect x="169" y="131" width="5" height="11" fill="#000"/>
<rect x="179" y="137" width="1" height="41" fill="#000"/>
<rect x="177" y="141" width="5" height="9" fill="#000"/>
<rect x="187" y="150" width="1" height="17" fill="#000"/>
<rect x="185" y="151" width="5" height="13" fill="#000"/>
<rect x="195" y="161" width="1" height="38" fill="#000"/>
<rect x="193" y="163" width="5" height="23" fill="#000"/>
<rect x="203" y="176" width="1" height="22" fill="#000"/>
<rect x="201" y="182" width="5" height="4" fill="#000"/>
<rect x="202" y="183" width="3" height="2" fill="#fff"/>
<rect x="211" y="172" width="1" height="35" fill="#000"/>
<rect x="209" y="182" width="5" height="6" fill="#000"/>
<rect x="219" y="172" width="1" height="43" fill="#000"/>
<rect x="217" y="187" width="5" height="20" fill="#000"/>
<rect x="227" y="188" width="1" height="49" fill="#000"/>
<rect x="225" y="199" width="5" height="8" fill="#000"/>
<rect x="226" y="200" width="3" height="6" fill="#fff"/>
<rect x="235" y="197" width="1" height="30" fill="#000"/>
<rect x="233" y="201" width="5" height="24" fill="#000"/>
<rect x="243" y="210" width="1" height="22" fill="#000"/>
<rect x="241" y="214" width="5" height="11" fill="#000"/>
<rect x="242" y="215" width="3" height="9" fill="#fff"/>
<rect x="251" y="174" width="1" height="45" fill="#000"/>
<rect x="249" y="175" width="5" height="40" fill="#000"/>
<rect x="250" y="176" width="3" height="38" fill="#fff"/>
<rect x="259" y="162" width="1" height="19" fill="#000"/>
<rect x="257" y="173" width="5" height="3" fill="#000"/>
<rect x="258" y="174" width="3" height="1" fill="#fff"/>
<rect x="267" y="158" width="1" height="30" fill="#000"/>
<rect x="265" y="158" width="5" height="17" fill="#000"/>
<rect x="266" y="159" width="3" height="15" fill="#fff"/>
<rect x="275" y="132" width="1" height="31" fill="#000"/>
<rect x="273" y="141" width="5" height="18" fill="#000"/>
<rect x="274" y="142" width="3" height="16" fill="#fff"/>
<rect x="283" y="108" width="1" height="21" fill="#000"/>
<rect x="281" y="114" width="5" height="15" fill="#000"/>
<rect x="282" y="115" width="3" height="13" fill="#fff"/>
<rect x="291" y="100" width="1" height="15" fill="#000"/>
<rect x="289" y="100" width="5" height="14" fill="#000"/>
<rect x="290" y="101" width="3" height="12" fill="#fff"/>
<rect x="299" y="95" width="1" height="19" fill="#000"/>
<rect x="297" y="97" width="5" height="5" fill="#000"/>
<rect x="298" y="98" width="3" height="3" fill="#fff"/>
<rect x="307" y="52" width="1" height="53" fill="#000"/>
<rect x="305" y="74" width="5" height="23" fill="#000"/>
<rect x="306" y="75" width="3" height="21" fill="#fff"/>
<rect x="315" y="70" width="1" height="38" fill="#000"/>
<rect x="313" y="74" width="5" height="11" fill="#000"/>
<rect x="323" y="66" width="1" height="39" fill="#000"/>
<rect x="321" y="67" width="5" height="18" fill="#000"/>
<rect x="322" y="68" width="3" height="16" fill="#fff"/>
<rect x="331" y="69" width="1" height="27" fill="#000"/>
<rect x="329" y="73" width="5" height="21" fill="#000"/>
<rect x="339" y="82" width="1" height="12" fill="#000"/>
<rect x="337" y="92" width="5" height="2" fill="#000"/>
<rect x="347" y="76" width="1" height="18" fill="#000"/>
<rect x="345" y="83" width="5" height="10" fill="#000"/>
<rect x="346" y="84" width="3" height="8" fill="#fff"/>
<rect x="355" y="83" width="1" height="36" fill="#000"/>
<rect x="353" y="83" width="5" height="31" fill="#000"/>
<rect x="363" y="87" width="1" height="53" fill="#000"/>
<rect x="361" y="92" width="5" height="22" fill="#000"/>
<rect x="362" y="93" width="3" height="20" fill="#fff"/>
<rect x="371" y="83" width="1" height="26" fill="#000"/>
<rect x="369" y="92" width="5" height="8" fill="#000"/>
<rect x="379" y="92" width="1" height="18" fill="#000"/>
<rect x="377" y="101" width="5" height="8" fill="#000"/>
<rect x="387" y="100" width="1" height="18" fill="#000"/>
<rect x="385" y="108" width="5" height="6" fill="#000"/>
<rect x="395" y="87" width="1" height="36" fill="#000"/>
<rect x="393" y="88" width="5" height="26" fill="#000"/>
<rect x="394" y="89" width="3" height="24" fill="#fff"/>
<rect x="403" y="71" width="1" height="19" fill="#000"/>
<rect x="401" y="79" width="5" height="11" fill="#000"/>
<rect x="402" y="80" width="3" height="9" fill="#fff"/>
<rect x="411" y="74" width="1" height="25" fill="#000"/>
<rect x="409" y="79" width="5" height="18" fill="#000"/>
<rect x="419" y="92" width="1" height="68" fill="#000"/>
<rect x="417" y="96" width="5" height="59" fill="#000"/>
<rect x="427" y="145" width="1" height="20" fill="#000"/>
<rect x="425" y="149" width="5" height="7" fill="#000"/>
<rect x="426" y="150" width="3" height="5" fill="#fff"/>
<rect x="435" y="146" width="1" height="19" fill="#000"/>
<rect x="433" y="150" width="5" height="1" fill="#000"/>
<rect x="443" y="138" width="1" height="43" fill="#000"/>
<rect x="441" y="150" width="5" height="22" fill="#000"/>
<rect x="451" y="154" width="1" height="29" fill="#000"/>
<rect x="449" y="158" width="5" height="14" fill="#000"/>
<rect x="450" y="159" width="3" height="12" fill="#fff"/>
<rect x="459" y="151" width="1" height="33" fill="#000"/>
<rect x="457" y="158" width="5" height="14" fill="#000"/>
<rect x="467" y="138" width="1" height="36" fill="#000"/>
<rect x="465" y="164" width="5" height="8" fill="#000"/>
<rect x="466" y="165" width="3" height="6" fill="#fff"/>
<rect x="475" y="169" width="1" height="21" fill="#000"/>
<rect x="473" y="170" width="5" height="8" fill="#000"/>
<rect x="483" y="168" width="1" height="18" fill="#000"/>
<rect x="481" y="172" width="5" height="6" fill="#000"/>
<rect x="482" y="173" width="3" height="4" fill="#fff"/>
<rect x="491" y="150" width="1" height="28" fill="#000"/>
<rect x="489" y="157" width="5" height="16" fill="#000"/>
<rect x="490" y="158" width="3" height="14" fill="#fff"/>
<rect x="499" y="143" width="1" height="16" fill="#000"/>
<rect x="497" y="157" width="5" height="1" fill="#000"/>
<rect x="507" y="145" width="1" height="30" fill="#000"/>
<rect x="505" y="157" width="5" height="12" fill="#000"/>
<rect x="515" y="160" width="1" height="24" fill="#000"/>
<rect x="513" y="169" width="5" height="10" fill="#000"/>
<rect x="523" y="162" width="1" height="28" fill="#000"/>
<rect x="521" y="168" width="5" height="21" fill="#000"/>
<rect x="522" y="169" width="3" height="19" fill="#fff"/>
<rect x="531" y="163" width="1" height="8" fill="#000"/>
<rect x="529" y="165" width="5" height="4" fill="#000"/>
<rect x="530" y="166" width="3" height="2" fill="#fff"/>
<rect x="539" y="142" width="1" height="26" fill="#000"/>
<rect x="537" y="147" width="5" height="19" fill="#000"/>
<rect x="538" y="148" width="3" height="17" fill="#fff"/>
<rect x="547" y="145" width="1" height="27" fill="#000"/>
<rect x="545" y="148" width="5" height="11" fill="#000"/>
<rect x="555" y="129" width="1" height="37" fill="#000"/>
<rect x="553" y="144" width="5" height="15" fill="#000"/>
<rect x="554" y="145" width="3" height="13" fill="#fff"/>
<rect x="563" y="116" width="1" height="32" fill="#000"/>
<rect x="561" y="126" width="5" height="19" fill="#000"/>
<rect x="562" y="127" width="3" height="17" fill="#fff"/>
<rect x="571" y="95" width="1" height="32" fill="#000"/>
<rect x="569" y="100" width="5" height="26" fill="#000"/>
<rect x="570" y="101" width="3" height="24" fill="#fff"/>
<rect x="579" y="82" width="1" height="19" fill="#000"/>
<rect x="577" y="89" width="5" height="12" fill="#000"/>
<rect x="578" y="90" width="3" height="10" fill="#fff"/>
<rect x="587" y="82" width="1" height="13" fill="#000"/>
<rect x="585" y="84" width="5" height="6" fill="#000"/>
<rect x="586" y="85" width="3" height="4" fill="#fff"/>
<rect x="595" y="74" width="1" height="15" fill="#000"/>
<rect x="593" y="79" width="5" height="6" fill="#000"/>
<rect x="594" y="80" width="3" height="4" fill="#fff"/>
<rect x="603" y="45" width="1" height="46" fill="#000"/>
<rect x="601" y="54" width="5" height="26" fill="#000"/>
<rect x="602" y="55" width="3" height="24" fill="#fff"/>
<rect x="611" y="50" width="1" height="20" fill="#000"/>
<rect x="609" y="50" width="5" height="5" fill="#000"/>
<rect x="610" y="51" width="3" height="3" fill="#fff"/>
<rect x="619" y="30" width="1" height="26" fill="#000"/>
<rect x="617" y="35" width="5" height="18" fill="#000"/>
<rect x="618" y="36" width="3" height="16" fill="#fff"/>
<rect x="627" y="32" width="1" height="30" fill="#000"/>
<rect x="625" y="34" width="5" height="28" fill="#000"/>
<rect x="635" y="46" width="1" height="26" fill="#000"/>
<rect x="633" y="60" width="5" height="3" fill="#000"/>
<rect x="643" y="58" width="1" height="14" fill="#000"/>
<rect x="641" y="63" width="5" height="4" fill="#000"/>
<rect x="651" y="62" width="1" height="33" fill="#000"/>
<rect x="649" y="66" width="5" height="15" fill="#000"/>
<rect x="659" y="77" width="1" height="14" fill="#000"/>
<rect x="657" y="80" width="5" height="1" fill="#000"/>
<rect x="667" y="71" width="1" height="16" fill="#000"/>
<rect x="665" y="73" width="5" height="5" fill="#000"/>
<rect x="666" y="74" width="3" height="3" fill="#fff"/>
<rect x="675" y="72" width="1" height="11" fill="#000"/>
<rect x="673" y="72" width="5" height="2" fill="#000"/>
<rect x="683" y="72" width="1" height="14" fill="#000"/>
<rect x="681" y="73" width="5" height="10" fill="#000"/>
<rect x="691" y="79" width="1" height="12" fill="#000"/>
<rect x="689" y="82" width="5" height="3" fill="#000"/>
<rect x="699" y="78" width="1" height="21" fill="#000"/>
<rect x="697" y="84" width="5" height="9" fill="#000"/>
<rect x="707" y="87" width="1" height="14" fill="#000"/>
<rect x="705" y="87" width="5" height="12" fill="#000"/>
<rect x="715" y="82" width="1" height="24" fill="#000"/>
<rect x="713" y="82" width="5" height="17" fill="#000"/>
<rect x="714" y="83" width="3" height="15" fill="#fff"/>
<rect x="723" y="69" width="1" height="18" fill="#000"/>
<rect x="721" y="76" width="5" height="7" fill="#000"/>
<rect x="722" y="77" width="3" height="5" fill="#fff"/>
<rect x="731" y="69" width="1" height="11" fill="#000"/>
<rect x="729" y="73" width="5" height="4" fill="#000"/>
<rect x="730" y="74" width="3" height="2" fill="#fff"/>
<rect x="739" y="60" width="1" height="33" fill="#000"/>
<rect x="737" y="74" width="5" height="4" fill="#000"/>
<rect x="747" y="74" width="1" height="6" fill="#000"/>
<rect x="745" y="74" width="5" height="4" fill="#000"/>
<rect x="746" y="75" width="3" height="2" fill="#fff"/>
<rect x="755" y="67" width="1" height="32" fill="#000"/>
<rect x="753" y="69" width="5" height="26" fill="#000"/>
<rect x="763" y="89" width="1" height="29" fill="#000"/>
<rect x="761" y="94" width="5" height="19" fill="#000"/>
<rect x="771" y="99" width="1" height="39" fill="#000"/>
<rect x="769" y="103" width="5" height="10" fill="#000"/>
<rect x="770" y="104" width="3" height="8" fill="#fff"/>
<rect x="779" y="94" width="1" height="23" fill="#000"/>
<rect x="777" y="99" width="5" height="4" fill="#000"/>
<rect x="778" y="100" width="3" height="2" fill="#fff"/>
<rect x="787" y="91" width="1" height="58" fill="#000"/>
<rect x="785" y="99" width="5" height="28" fill="#000"/>
<rect x="795" y="109" width="1" height="32" fill="#000"/>
<rect x="793" y="110" width="5" height="16" fill="#000"/>
<rect x="794" y="111" width="3" height="14" fill="#fff"/>
<rect x="803" y="91" width="1" height="31" fill="#000"/>
<rect x="801" y="92" width="5" height="23" fill="#000"/>
<rect x="802" y="93" width="3" height="21" fill="#fff"/>
<rect x="811" y="73" width="1" height="20" fill="#000"/>
<rect x="809" y="83" width="5" height="10" fill="#000"/>
<rect x="810" y="84" width="3" height="8" fill="#fff"/>
<rect x="819" y="62" width="1" height="28" fill="#000"/>
<rect x="817" y="67" width="5" height="16" fill="#000"/>
<rect x="818" y="68" width="3" height="14" fill="#fff"/>
<rect x="827" y="62" width="1" height="13" fill="#000"/>
<rect x="825" y="67" width="5" height="1" fill="#000"/>
<rect x="835" y="51" width="1" height="35" fill="#000"/>
<rect x="833" y="67" width="5" height="15" fill="#000"/>
<rect x="843" y="71" width="1" height="32" fill="#000"/>
<rect x="841" y="81" width="5" height="21" fill="#000"/>
<rect x="851" y="94" width="1" height="30" fill="#000"/>
<rect x="849" y="100" width="5" height="21" fill="#000"/>
<rect x="859" y="110" width="1" height="14" fill="#000"/>
<rect x="857" y="115" width="5" height="6" fill="#000"/>
<rect x="858" y="116" width="3" height="4" fill="#fff"/>
<rect x="867" y="100" width="1" height="20" fill="#000"/>
<rect x="865" y="108" width="5" height="7" fill="#000"/>
<rect x="866" y="109" width="3" height="5" fill="#fff"/>
<rect x="875" y="103" width="1" height="20" fill="#000"/>
<rect x="873" y="108" width="5" height="6" fill="#000"/>
<rect x="883" y="88" width="1" height="39" fill="#000"/>
<rect x="881" y="94" width="5" height="20" fill="#000"/>
<rect x="882" y="95" width="3" height="18" fill="#fff"/>
<rect x="891" y="75" width="1" height="28" fill="#000"/>
<rect x="889" y="79" width="5" height="15" fill="#000"/>
<rect x="890" y="80" width="3" height="13" fill="#fff"/>
<rect x="899" y="75" width="1" height="15" fill="#000"/>
<rect x="897" y="78" width="5" height="6" fill="#000"/>
<rect x="907" y="72" width="1" height="19" fill="#000"/>
<rect x="905" y="83" width="5" height="7" fill="#000"/>
<rect x="915" y="77" width="1" height="24" fill="#000"/>
<rect x="913" y="90" width="5" height="5" fill="#000"/>
<rect x="923" y="76" width="1" height="21" fill="#000"/>
<rect x="921" y="78" width="5" height="17" fill="#000"/>
<rect x="922" y="79" width="3" height="15" fill="#fff"/>
<rect x="931" y="52" width="1" height="28" fill="#000"/>
<rect x="929" y="53" width="5" height="27" fill="#000"/>
<rect x="930" y="54" width="3" height="25" fill="#fff"/>
<rect x="939" y="47" width="1" height="37" fill="#000"/>
<rect x="937" y="53" width="5" height="17" fill="#000"/>
<rect x="947" y="60" width="1" height="13" fill="#000"/>
<rect x="945" y="68" width="5" height="3" fill="#000"/>
<rect x="946" y="69" width="3" height="1" fill="#fff"/>
<rect x="955" y="59" width="1" height="11" fill="#000"/>
<rect x="953" y="61" width="5" height="7" fill="#000"/>
<rect x="954" y="62" width="3" height="5" fill="#fff"/>
<rect x="963" y="46" width="1" height="22" fill="#000"/>
<rect x="961" y="52" width="5" height="10" fill="#000"/>
<rect x="962" y="53" width="3" height="8" fill="#fff"/>
<rect x="971" y="48" width="1" height="16" fill="#000"/>
<rect x="969" y="51" width="5" height="6" fill="#000"/>
<rect x="979" y="40" width="1" height="22" fill="#000"/>
<rect x="977" y="44" width="5" height="13" fill="#000"/>
<rect x="978" y="45" width="3" height="11" fill="#fff"/>
<rect x="987" y="32" width="1" height="14" fill="#000"/>
<rect x="985" y="33" width="5" height="12" fill="#000"/>
<rect x="986" y="34" width="3" height="10" fill="#fff"/>
<rect x="995" y="21" width="1" height="17" fill="#000"/>
<rect x="993" y="24" width="5" height="7" fill="#000"/>
<rect x="3" y="432" width="1" height="104" fill="#00008b"/>
<rect x="11" y="438" width="1" height="98" fill="#00008b"/>
<rect x="19" y="436" width="1" height="100" fill="#00008b"/>
<rect x="27" y="439" width="1" height="97" fill="#00008b"/>
<rect x="35" y="443" width="1" height="93" fill="#00008b"/>
<rect x="43" y="438" width="1" height="98" fill="#00008b"/>
<rect x="51" y="435" width="1" height="101" fill="#00008b"/>
<rect x="59" y="433" width="1" height="103" fill="#00008b"/>
<rect x="67" y="403" width="1" height="133" fill="#00008b"/>
<rect x="75" y="388" width="1" height="148" fill="#00008b"/>
<rect x="83" y="390" width="1" height="146" fill="#00008b"/>
<rect x="91" y="393" width="1" height="143" fill="#00008b"/>
<rect x="99" y="401" width="1" height="135" fill="#00008b"/>
<rect x="107" y="400" width="1" height="136" fill="#00008b"/>
<rect x="115" y="401" width="1" height="135" fill="#00008b"/>
<rect x="123" y="402" width="1" height="134" fill="#00008b"/>
<rect x="131" y="404" width="1" height="132" fill="#00008b"/>
<rect x="139" y="407" width="1" height="129" fill="#00008b"/>
<rect x="147" y="409" width="1" height="127" fill="#00008b"/>
<rect x="155" y="409" width="1" height="127" fill="#00008b"/>
<rect x="163" y="411" width="1" height="125" fill="#00008b"/>
<rect x="171" y="416" width="1" height="120" fill="#00008b"/>
<rect x="179" y="423" width="1" height="113" fill="#00008b"/>
<rect x="187" y="431" width="1" height="105" fill="#00008b"/>
<rect x="195" y="442" width="1" height="94" fill="#00008b"/>
<rect x="203" y="452" width="1" height="84" fill="#00008b"/>
<rect x="211" y="461" width="1" height="75" fill="#00008b"/>
<rect x="219" y="472" width="1" height="64" fill="#00008b"/>
<rect x="227" y="480" width="1" height="56" fill="#00008b"/>
<rect x="235" y="491" width="1" height="45" fill="#00008b"/>
<rect x="243" y="498" width="1" height="38" fill="#00008b"/>
<rect x="251" y="498" width="1" height="38" fill="#00008b"/>
<rect x="259" y="498" width="1" height="38" fill="#00008b"/>
<rect x="267" y="497" width="1" height="39" fill="#00008b"/>
<rect x="275" y="494" width="1" height="42" fill="#00008b"/>
<rect x="283" y="488" width="1" height="48" fill="#00008b"/>
<rect x="291" y="481" width="1" height="55" fill="#00008b"/>
<rect x="299" y="476" width="1" height="60" fill="#00008b"/>
<rect x="307" y="468" width="1" height="68" fill="#00008b"/>
<rect x="315" y="466" width="1" height="70" fill="#00008b"/>
<rect x="323" y="460" width="1" height="76" fill="#00008b"/>
<rect x="331" y="463" width="1" height="73" fill="#00008b"/>
<rect x="339" y="465" width="1" height="71" fill="#00008b"/>
<rect x="347" y="466" width="1" height="70" fill="#00008b"/>
<rect x="355" y="472" width="1" height="64" fill="#00008b"/>
<rect x="363" y="474" width="1" height="62" fill="#00008b"/>
<rect x="371" y="478" width="1" height="58" fill="#00008b"/>
<rect x="379" y="483" width="1" height="53" fill="#00008b"/>
<rect x="387" y="487" width="1" height="49" fill="#00008b"/>
<rect x="395" y="489" width="1" height="47" fill="#00008b"/>
<rect x="403" y="489" width="1" height="47" fill="#00008b"/>
<rect x="411" y="492" width="1" height="44" fill="#00008b"/>
<rect x="419" y="503" width="1" height="33" fill="#00008b"/>
<rect x="427" y="512" width="1" height="24" fill="#00008b"/>
<rect x="435" y="520" width="1" height="16" fill="#00008b"/>
<rect x="443" y="529" width="1" height="7" fill="#00008b"/>
<rect x="451" y="533" width="1" height="3" fill="#00008b"/>
<rect x="459" y="535" width="1" height="6" fill="#00008b"/>
<rect x="467" y="535" width="1" height="9" fill="#00008b"/>
<rect x="475" y="535" width="1" height="14" fill="#00008b"/>
<rect x="483" y="535" width="1" height="17" fill="#00008b"/>
<rect x="491" y="535" width="1" height="17" fill="#00008b"/>
<rect x="499" y="535" width="1" height="16" fill="#00008b"/>
<rect x="507" y="535" width="1" height="17" fill="#00008b"/>
<rect x="515" y="535" width="1" height="20" fill="#00008b"/>
<rect x="523" y="535" width="1" height="20" fill="#00008b"/>
<rect x="531" y="535" width="1" height="18" fill="#00008b"/>
<rect x="539" y="535" width="1" height="16" fill="#00008b"/>
<rect x="547" y="535" width="1" height="15" fill="#00008b"/>
<rect x="555" y="535" width="1" height="12" fill="#00008b"/>
<rect x="563" y="535" width="1" height="6" fill="#00008b"/>
<rect x="571" y="533" width="1" height="3" fill="#00008b"/>
<rect x="579" y="524" width="1" height="12" fill="#00008b"/>
<rect x="587" y="517" width="1" height="19" fill="#00008b"/>
<rect x="595" y="511" width="1" height="25" fill="#00008b"/>
<rect x="603" y="501" width="1" height="35" fill="#00008b"/>
<rect x="611" y="495" width="1" height="41" fill="#00008b"/>
<rect x="619" y="487" width="1" height="49" fill="#00008b"/>
<rect x="627" y="486" width="1" height="50" fill="#00008b"/>
<rect x="635" y="486" width="1" height="50" fill="#00008b"/>
<rect x="643" y="487" width="1" height="49" fill="#00008b"/>
<rect x="651" y="491" width="1" height="45" fill="#00008b"/>
<rect x="659" y="495" width="1" height="41" fill="#00008b"/>
<rect x="667" y="496" width="1" height="40" fill="#00008b"/>
<rect x="675" y="499" width="1" height="37" fill="#00008b"/>
<rect x="683" y="502" width="1" height="34" fill="#00008b"/>
<rect x="691" y="506" width="1" height="30" fill="#00008b"/>
<rect x="699" y="510" width="1" height="26" fill="#00008b"/>
<rect x="707" y="514" width="1" height="22" fill="#00008b"/>
<rect x="715" y="515" width="1" height="21" fill="#00008b"/>
<rect x="723" y="515" width="1" height="21" fill="#00008b"/>
<rect x="731" y="515" width="1" height="21" fill="#00008b"/>
<rect x="739" y="516" width="1" height="20" fill="#00008b"/>
<rect x="747" y="517" width="1" height="19" fill="#00008b"/>
<rect x="755" y="521" width="1" height="15" fill="#00008b"/>
<rect x="763" y="526" width="1" height="10" fill="#00008b"/>
<rect x="771" y="530" width="1" height="6" fill="#00008b"/>
<rect x="779" y="531" width="1" height="5" fill="#00008b"/>
<rect x="787" y="535" width="1" height="3" fill="#00008b"/>
<rect x="795" y="535" width="1" height="5" fill="#00008b"/>
<rect x="803" y="535" width="1" height="4" fill="#00008b"/>
<rect x="811" y="535" width="1" height="1" fill="#00008b"/>
<rect x="819" y="531" width="1" height="5" fill="#00008b"/>
<rect x="827" y="529" width="1" height="7" fill="#00008b"/>
<rect x="835" y="527" width="1" height="9" fill="#00008b"/>
<rect x="843" y="530" width="1" height="6" fill="#00008b"/>
<rect x="851" y="534" width="1" height="2" fill="#00008b"/>
<rect x="859" y="535" width="1" height="5" fill="#00008b"/>
<rect x="867" y="535" width="1" height="7" fill="#00008b"/>
<rect x="875" y="535" width="1" height="8" fill="#00008b"/>
<rect x="883" y="535" width="1" height="6" fill="#00008b"/>
<rect x="891" y="535" width="1" height="3" fill="#00008b"/>
<rect x="899" y="535" width="1" height="1" fill="#00008b"/>
<rect x="907" y="534" width="1" height="2" fill="#00008b"/>
<rect x="915" y="534" width="1" height="2" fill="#00008b"/>
<rect x="923" y="533" width="1" height="3" fill="#00008b"/>
<rect x="931" y="526" width="1" height="10" fill="#00008b"/>
<rect x="939" y="525" width="1" height="11" fill="#00008b"/>
<rect x="947" y="523" width="1" height="13" fill="#00008b"/>
<rect x="955" y="521" width="1" height="15" fill="#00008b"/>
<rect x="963" y="519" width="1" height="17" fill="#00008b"/>
<rect x="971" y="517" width="1" height="19" fill="#00008b"/>
<rect x="979" y="515" width="1" height="21" fill="#00008b"/>
<rect x="987" y="511" width="1" height="25" fill="#00008b"/>
<rect x="995" y="507" width="1" height="29" fill="#00008b"/>
<path d="M3 432h1v1h-1zM4 433h2v1h-2zM6 434h1v1h-1zM7 435h1v1h-1zM8 436h2v1h-2zM10 437h1v1h-1zM11 438h3v1h-3zM14 437h4v1h-4zM18 436h3v1h-3zM21 437h3v1h-3zM24 438h2v1h-2zM26 439h3v1h-3zM29 440h2v1h-2zM31 441h2v1h-2zM33 442h2v1h-2zM35 443h1v1h-1zM36 442h2v1h-2zM38 441h2v1h-2zM40 440h1v1h-1zM41 439h2v1h-2zM43 438h2v1h-2zM45 437h3v1h-3zM48 436h2v1h-2zM50 435h4v1h-4zM54 434h4v1h-4zM58 433h2v1h-2zM59 432h1v1h-1zM60 428v4h1v-4zM61 424v4h1v-4zM62 420v4h1v-4zM63 417v3h1v-3zM64 413v4h1v-4zM65 409v4h1v-4zM66 405v4h1v-4zM67 403v2h1v-2zM68 401v2h1v-2zM69 399v2h1v-2zM70 397v2h1v-2zM71 395v2h1v-2zM72 393v2h1v-2zM73 391v2h1v-2zM74 389v2h1v-2zM75 388h3v1h-3zM78 389h4v1h-4zM82 390h3v1h-3zM85 391h3v1h-3zM88 392h2v1h-2zM90 393h2v1h-2zM92 394h1v1h-1zM93 395h1v1h-1zM94 396h1v1h-1zM95 397h1v1h-1zM96 398h1v1h-1zM97 399h1v1h-1zM98 400h1v1h-1zM99 401h5v1h-5zM104 400h8v1h-8zM112 401h8v1h-8zM120 402h6v1h-6zM126 403h4v1h-4zM130 404h3v1h-3zM133 405h3v1h-3zM136 406h2v1h-2zM138 407h4v1h-4zM142 408h4v1h-4zM146 409h12v1h-12zM158 410h4v1h-4zM162 411h2v1h-2zM164 412h2v1h-2zM166 413h2v1h-2zM168 414h1v1h-1zM169 415h2v1h-2zM171 416h1v1h-1zM172 417h1v1h-1zM173 418h1v1h-1zM174 419h2v1h-2zM176 420h1v1h-1zM177 421h1v1h-1zM178 422h1v1h-1zM179 423h1v1h-1zM180 424h1v1h-1zM181 425h1v1h-1zM182 426h1v1h-1zM183 427h1v1h-1zM184 428h1v1h-1zM185 429h1v1h-1zM186 430h1v1h-1zM187 431h1v1h-1zM188 432v2h1v-2zM189 434h1v1h-1zM190 435h1v1h-1zM191 436v2h1v-2zM192 438h1v1h-1zM193 439h1v1h-1zM194 440v2h1v-2zM195 442h1v1h-1zM196 443h1v1h-1zM197 444v2h1v-2zM198 446h1v1h-1zM199 447h1v1h-1zM200 448h1v1h-1zM201 449v2h1v-2zM202 451h1v1h-1zM203 452h1v1h-1zM204 453h1v1h-1zM205 454h1v1h-1zM206 455h1v1h-1zM207 456v2h1v-2zM208 458h1v1h-1zM209 459h1v1h-1zM210 460h1v1h-1zM211 461h1v1h-1zM212 462v2h1v-2zM213 464h1v1h-1zM214 465h1v1h-1zM215 466v2h1v-2zM216 468h1v1h-1zM217 469h1v1h-1zM218 470v2h1v-2zM219 472h1v1h-1zM220 473h1v1h-1zM221 474h1v1h-1zM222 475h1v1h-1zM223 476h1v1h-1zM224 477h1v1h-1zM225 478h1v1h-1zM226 479h1v1h-1zM227 480h1v1h-1zM228 481v2h1v-2zM229 483h1v1h-1zM230 484h1v1h-1zM231 485v2h1v-2zM232 487h1v1h-1zM233 488h1v1h-1zM234 489v2h1v-2zM235 491h1v1h-1zM236 492h1v1h-1zM237 493h1v1h-1zM238 494h2v1h-2zM240 495h1v1h-1zM241 496h1v1h-1zM242 497h1v1h-1zM243 498h21v1h-21zM264 497h5v1h-5zM269 496h3v1h-3zM272 495h2v1h-2zM274 494h2v1h-2zM276 493h2v1h-2zM278 492h1v1h-1zM279 491h1v1h-1zM280 490h2v1h-2zM282 489h1v1h-1zM283 488h1v1h-1zM284 487h1v1h-1zM285 486h1v1h-1zM286 485h2v1h-2zM288 484h1v1h-1zM289 483h1v1h-1zM290 482h1v1h-1zM291 481h1v1h-1zM292 480h2v1h-2zM294 479h2v1h-2zM296 478h1v1h-1zM297 477h2v1h-2zM299 476h1v1h-1zM300 475h1v1h-1zM301 474h1v1h-1zM302 473h1v1h-1zM303 472h1v1h-1zM304 471h1v1h-1zM305 470h1v1h-1zM306 469h1v1h-1zM307 468h3v1h-3zM310 467h4v1h-4zM314 466h2v1h-2zM316 465h2v1h-2zM318 464h1v1h-1zM319 463h1v1h-1zM320 462h2v1h-2zM322 461h1v1h-1zM323 460h2v1h-2zM325 461h3v1h-3zM328 462h2v1h-2zM330 463h4v1h-4zM334 464h4v1h-4zM338 465h6v1h-6zM344 466h4v1h-4zM348 467h2v1h-2zM350 468h1v1h-1zM351 469h1v1h-1zM352 470h2v1h-2zM354 471h1v1h-1zM355 472h3v1h-3zM358 473h4v1h-4zM362 474h3v1h-3zM365 475h2v1h-2zM367 476h2v1h-2zM369 477h2v1h-2zM371 478h1v1h-1zM372 479h2v1h-2zM374 480h2v1h-2zM376 481h1v1h-1zM377 482h2v1h-2zM379 483h2v1h-2zM381 484h2v1h-2zM383 485h2v1h-2zM385 486h2v1h-2zM387 487h3v1h-3zM390 488h4v1h-4zM394 489h11v1h-11zM405 490h3v1h-3zM408 491h2v1h-2zM410 492h2v1h-2zM412 493v2h1v-2zM413 495h1v1h-1zM414 496h1v1h-1zM415 497v2h1v-2zM416 499h1v1h-1zM417 500h1v1h-1zM418 501v2h1v-2zM419 503h1v1h-1zM420 504h1v1h-1zM421 505h1v1h-1zM422 506h1v1h-1zM423 507v2h1v-2zM424 509h1v1h-1zM425 510h1v1h-1zM426 511h1v1h-1zM427 512h1v1h-1zM428 513h1v1h-1zM429 514h1v1h-1zM430 515h1v1h-1zM431 516h1v1h-1zM432 517h1v1h-1zM433 518h1v1h-1zM434 519h1v1h-1zM435 520h1v1h-1zM436 521h1v1h-1zM437 522h1v1h-1zM438 523h1v1h-1zM439 524v2h1v-2zM440 526h1v1h-1zM441 527h1v1h-1zM442 528h1v1h-1zM443 529h2v1h-2zM445 530h2v1h-2zM447 531h2v1h-2zM449 532h2v1h-2zM451 533h1v1h-1zM452 534h1v1h-1zM453 535h1v1h-1zM454 536h2v1h-2zM456 537h1v1h-1zM457 538h1v1h-1zM458 539h1v1h-1zM459 540h2v1h-2zM461 541h3v1h-3zM464 542h2v1h-2zM466 543h2v1h-2zM468 544h2v1h-2zM470 545h2v1h-2zM472 546h1v1h-1zM473 547h2v1h-2zM475 548h2v1h-2zM477 549h3v1h-3zM480 550h2v1h-2zM482 551h14v1h-14zM496 550h8v1h-8zM504 551h5v1h-5zM509 552h3v1h-3zM512 553h2v1h-2zM514 554h12v1h-12zM526 553h4v1h-4zM530 552h4v1h-4zM534 551h4v1h-4zM538 550h6v1h-6zM544 549h5v1h-5zM549 548h3v1h-3zM552 547h2v1h-2zM554 546h2v1h-2zM556 545h2v1h-2zM558 544h1v1h-1zM559 543h1v1h-1zM560 542h2v1h-2zM562 541h1v1h-1zM563 540h1v1h-1zM564 539h1v1h-1zM565 538h1v1h-1zM566 537h2v1h-2zM568 536h1v1h-1zM569 535h1v1h-1zM570 534h1v1h-1zM571 533h1v1h-1zM572 532h1v1h-1zM573 531h1v1h-1zM574 530h1v1h-1zM575 528v2h1v-2zM576 527h1v1h-1zM577 526h1v1h-1zM578 525h1v1h-1zM579 524h1v1h-1zM580 523h1v1h-1zM581 522h1v1h-1zM582 521h2v1h-2zM584 520h1v1h-1zM585 519h1v1h-1zM586 518h1v1h-1zM587 517h1v1h-1zM588 516h2v1h-2zM590 515h1v1h-1zM591 514h1v1h-1zM592 513h2v1h-2zM594 512h1v1h-1zM595 511h1v1h-1zM596 510h1v1h-1zM597 508v2h1v-2zM598 507h1v1h-1zM599 506h1v1h-1zM600 505h1v1h-1zM601 503v2h1v-2zM602 502h1v1h-1zM603 501h1v1h-1zM604 500h2v1h-2zM606 499h1v1h-1zM607 498h1v1h-1zM608 497h2v1h-2zM610 496h1v1h-1zM611 495h1v1h-1zM612 494h1v1h-1zM613 493h1v1h-1zM614 492h1v1h-1zM615 491h1v1h-1zM616 490h1v1h-1zM617 489h1v1h-1zM618 488h1v1h-1zM619 487h5v1h-5zM624 486h16v1h-16zM640 487h5v1h-5zM645 488h2v1h-2zM647 489h2v1h-2zM649 490h2v1h-2zM651 491h2v1h-2zM653 492h2v1h-2zM655 493h2v1h-2zM657 494h2v1h-2zM659 495h5v1h-5zM664 496h5v1h-5zM669 497h3v1h-3zM672 498h2v1h-2zM674 499h3v1h-3zM677 500h3v1h-3zM680 501h2v1h-2zM682 502h3v1h-3zM685 503h2v1h-2zM687 504h2v1h-2zM689 505h2v1h-2zM691 506h2v1h-2zM693 507h2v1h-2zM695 508h2v1h-2zM697 509h2v1h-2zM699 510h2v1h-2zM701 511h2v1h-2zM703 512h2v1h-2zM705 513h2v1h-2zM707 514h5v1h-5zM712 515h24v1h-24zM736 516h8v1h-8zM744 517h5v1h-5zM749 518h2v1h-2zM751 519h2v1h-2zM753 520h2v1h-2zM755 521h1v1h-1zM756 522h2v1h-2zM758 523h2v1h-2zM760 524h1v1h-1zM761 525h2v1h-2zM763 526h2v1h-2zM765 527h2v1h-2zM767 528h2v1h-2zM769 529h2v1h-2zM771 530h5v1h-5zM776 531h4v1h-4zM780 532h2v1h-2zM782 533h1v1h-1zM783 534h1v1h-1zM784 535h2v1h-2zM786 536h1v1h-1zM787 537h3v1h-3zM790 538h4v1h-4zM794 539h6v1h-6zM800 538h5v1h-5zM805 537h3v1h-3zM808 536h2v1h-2zM810 535h3v1h-3zM813 534h2v1h-2zM815 533h2v1h-2zM817 532h2v1h-2zM819 531h3v1h-3zM822 530h4v1h-4zM826 529h4v1h-4zM830 528h4v1h-4zM834 527h3v1h-3zM837 528h3v1h-3zM840 529h2v1h-2zM842 530h3v1h-3zM845 531h2v1h-2zM847 532h2v1h-2zM849 533h2v1h-2zM851 534h1v1h-1zM852 535h2v1h-2zM854 536h2v1h-2zM856 537h1v1h-1zM857 538h2v1h-2zM859 539h3v1h-3zM862 540h4v1h-4zM866 541h6v1h-6zM872 542h6v1h-6zM878 541h4v1h-4zM882 540h3v1h-3zM885 539h3v1h-3zM888 538h2v1h-2zM890 537h4v1h-4zM894 536h4v1h-4zM898 535h6v1h-6zM904 534h16v1h-16zM920 533h4v1h-4zM924 532h1v1h-1zM925 531h1v1h-1zM926 530h2v1h-2zM928 529h1v1h-1zM929 528h1v1h-1zM930 527h1v1h-1zM931 526h5v1h-5zM936 525h6v1h-6zM942 524h4v1h-4zM946 523h4v1h-4zM950 522h4v1h-4zM954 521h4v1h-4zM958 520h4v1h-4zM962 519h4v1h-4zM966 518h4v1h-4zM970 517h4v1h-4zM974 516h4v1h-4zM978 515h3v1h-3zM981 514h2v1h-2zM983 513h2v1h-2zM985 512h2v1h-2zM987 511h2v1h-2zM989 510h2v1h-2zM991 509h2v1h-2zM993 508h2v1h-2zM995 507h1v1h-1z" fill="#c0c0c0"/>
<path d="M3 444h2v1h-2zM5 443h3v1h-3zM8 442h2v1h-2zM10 441h3v1h-3zM13 440h3v1h-3zM16 439h2v1h-2zM18 438h5v1h-5zM23 437h7v1h-7zM30 436h6v1h-6zM36 435h20v1h-20zM56 436h5v1h-5zM61 435h3v1h-3zM64 434h2v1h-2zM66 433h2v1h-2zM68 432h2v1h-2zM70 431h2v1h-2zM72 430h1v1h-1zM73 429h2v1h-2zM75 428h1v1h-1zM76 427h2v1h-2zM78 426h2v1h-2zM80 425h1v1h-1zM81 424h2v1h-2zM83 423h1v1h-1zM84 422h2v1h-2zM86 421h2v1h-2zM88 420h1v1h-1zM89 419h2v1h-2zM91 418h2v1h-2zM93 417h3v1h-3zM96 416h2v1h-2zM98 415h2v1h-2zM100 414h2v1h-2zM102 413h1v1h-1zM103 412h1v1h-1zM104 411h2v1h-2zM106 410h1v1h-1zM107 409h1v1h-1zM108 408h2v1h-2zM110 407h1v1h-1zM111 406h1v1h-1zM112 405h2v1h-2zM114 404h2v1h-2zM116 403h2v1h-2zM118 402h3v1h-3zM121 401h2v1h-2zM123 400h2v1h-2zM125 399h3v1h-3zM128 398h2v1h-2zM130 397h7v1h-7zM137 398h5v1h-5zM142 399h4v1h-4zM146 400h4v1h-4zM150 401h4v1h-4zM154 402h4v1h-4zM158 403h4v1h-4zM162 404h4v1h-4zM166 405h4v1h-4zM170 406h4v1h-4zM174 407h4v1h-4zM178 408h3v1h-3zM181 409h2v1h-2zM183 410h2v1h-2zM185 411h2v1h-2zM187 412h3v1h-3zM190 413h2v1h-2zM192 414h2v1h-2zM194 415h2v1h-2zM196 416h2v1h-2zM198 417h1v1h-1zM199 418h2v1h-2zM201 419h1v1h-1zM202 420h2v1h-2zM204 421h1v1h-1zM205 422h1v1h-1zM206 423h2v1h-2zM208 424h1v1h-1zM209 425h1v1h-1zM210 426h1v1h-1zM211 427h1v1h-1zM212 428h2v1h-2zM214 429h1v1h-1zM215 430h1v1h-1zM216 431h1v1h-1zM217 432h1v1h-1zM218 433h1v1h-1zM219 434h1v1h-1zM220 435h1v1h-1zM221 436h1v1h-1zM222 437h1v1h-1zM223 438h1v1h-1zM224 439h1v1h-1zM225 440h1v1h-1zM226 441h1v1h-1zM227 442h1v1h-1zM228 443h1v1h-1zM229 444h1v1h-1zM230 445h1v1h-1zM231 446h1v1h-1zM232 447h2v1h-2zM234 448h1v1h-1zM235 449h1v1h-1zM236 450h1v1h-1zM237 451h1v1h-1zM238 452h1v1h-1zM239 453h1v1h-1zM240 454h1v1h-1zM241 455h1v1h-1zM242 456h1v1h-1zM243 457v2h1v-2zM244 459h1v1h-1zM245 460h1v1h-1zM246 461h1v1h-1zM247 462h1v1h-1zM248 463h1v1h-1zM249 464h1v1h-1zM250 465h1v1h-1zM251 466h1v1h-1zM252 467v2h1v-2zM253 469h1v1h-1zM254 470h1v1h-1zM255 471h1v1h-1zM256 472h1v1h-1zM257 473h1v1h-1zM258 474h1v1h-1zM259 475h2v1h-2zM261 476h1v1h-1zM262 477h1v1h-1zM263 478h1v1h-1zM264 479h2v1h-2zM266 480h1v1h-1zM267 481h1v1h-1zM268 482h2v1h-2zM270 483h2v1h-2zM272 484h1v1h-1zM273 485h2v1h-2zM275 486h2v1h-2zM277 487h2v1h-2zM279 488h4v1h-4zM283 489h3v1h-3zM286 490h5v1h-5zM291 491h10v1h-10zM301 490h2v1h-2zM303 489h3v1h-3zM306 488h2v1h-2zM308 487h2v1h-2zM310 486h2v1h-2zM312 485h2v1h-2zM314 484h2v1h-2zM316 483h2v1h-2zM318 482h1v1h-1zM319 481h2v1h-2zM321 480h2v1h-2zM323 479h2v1h-2zM325 478h2v1h-2zM327 477h3v1h-3zM330 476h2v1h-2zM332 475h2v1h-2zM334 474h3v1h-3zM337 473h2v1h-2zM339 472h3v1h-3zM342 471h2v1h-2zM344 470h2v1h-2zM346 469h5v1h-5zM351 468h6v1h-6zM357 467h18v1h-18zM375 468h4v1h-4zM379 469h4v1h-4zM383 470h4v1h-4zM387 471h3v1h-3zM390 472h2v1h-2zM392 473h3v1h-3zM395 474h2v1h-2zM397 475h3v1h-3zM400 476h2v1h-2zM402 477h3v1h-3zM405 478h2v1h-2zM407 479h2v1h-2zM409 480h3v1h-3zM412 481h2v1h-2zM414 482h2v1h-2zM416 483h2v1h-2zM418 484h2v1h-2zM420 485h2v1h-2zM422 486h1v1h-1zM423 487h2v1h-2zM425 488h2v1h-2zM427 489h2v1h-2zM429 490h1v1h-1zM430 491h2v1h-2zM432 492h2v1h-2zM434 493h1v1h-1zM435 494h2v1h-2zM437 495h2v1h-2zM439 496h2v1h-2zM441 497h1v1h-1zM442 498h2v1h-2zM444 499h2v1h-2zM446 500h1v1h-1zM447 501h1v1h-1zM448 502h2v1h-2zM450 503h1v1h-1zM451 504h1v1h-1zM452 505h1v1h-1zM453 506h2v1h-2zM455 507h1v1h-1zM456 508h1v1h-1zM457 509h2v1h-2zM459 510h1v1h-1zM460 511h1v1h-1zM461 512h1v1h-1zM462 513h2v1h-2zM464 514h1v1h-1zM465 515h1v1h-1zM466 516h1v1h-1zM467 517h1v1h-1zM468 518h2v1h-2zM470 519h1v1h-1zM471 520h1v1h-1zM472 521h1v1h-1zM473 522h1v1h-1zM474 523h2v1h-2zM476 524h1v1h-1zM477 525h1v1h-1zM478 526h1v1h-1zM479 527h1v1h-1zM480 528h2v1h-2zM482 529h1v1h-1zM483 530h1v1h-1zM484 531h1v1h-1zM485 532h2v1h-2zM487 533h2v1h-2zM489 534h2v1h-2zM491 535h2v1h-2zM493 536h2v1h-2zM495 537h2v1h-2zM497 538h2v1h-2zM499 539h2v1h-2zM501 540h2v1h-2zM503 541h2v1h-2zM505 542h2v1h-2zM507 543h2v1h-2zM509 544h2v1h-2zM511 545h2v1h-2zM513 546h2v1h-2zM515 547h3v1h-3zM518 548h4v1h-4zM522 549h4v1h-4zM526 550h4v1h-4zM530 551h6v1h-6zM536 552h17v1h-17zM553 551h6v1h-6zM559 550h5v1h-5zM564 549h5v1h-5zM569 548h4v1h-4zM573 547h2v1h-2zM575 546h2v1h-2zM577 545h2v1h-2zM579 544h1v1h-1zM580 543h2v1h-2zM582 542h2v1h-2zM584 541h2v1h-2zM586 540h1v1h-1zM587 539h2v1h-2zM589 538h2v1h-2zM591 537h1v1h-1zM592 536h2v1h-2zM594 535h2v1h-2zM596 534h2v1h-2zM598 533h1v1h-1zM599 532h2v1h-2zM601 531h2v1h-2zM603 530h1v1h-1zM604 529h1v1h-1zM605 528h2v1h-2zM607 527h1v1h-1zM608 526h1v1h-1zM609 525h1v1h-1zM610 524h2v1h-2zM612 523h1v1h-1zM613 522h1v1h-1zM614 521h1v1h-1zM615 520h1v1h-1zM616 519h2v1h-2zM618 518h1v1h-1zM619 517h1v1h-1zM620 516h1v1h-1zM621 515h2v1h-2zM623 514h1v1h-1zM624 513h1v1h-1zM625 512h1v1h-1zM626 511h2v1h-2zM628 510h1v1h-1zM629 509h1v1h-1zM630 508h1v1h-1zM631 507h1v1h-1zM632 506h2v1h-2zM634 505h1v1h-1zM635 504h1v1h-1zM636 503h2v1h-2zM638 502h2v1h-2zM640 501h2v1h-2zM642 500h2v1h-2zM644 499h1v1h-1zM645 498h2v1h-2zM647 497h2v1h-2zM649 496h2v1h-2zM651 495h3v1h-3zM654 494h4v1h-4zM658 493h6v1h-6zM664 492h8v1h-8zM672 491h8v1h-8zM680 492h6v1h-6zM686 493h6v1h-6zM692 494h5v1h-5zM697 495h4v1h-4zM701 496h2v1h-2zM703 497h2v1h-2zM705 498h2v1h-2zM707 499h2v1h-2zM709 500h2v1h-2zM711 501h2v1h-2zM713 502h2v1h-2zM715 503h2v1h-2zM717 504h3v1h-3zM720 505h4v1h-4zM724 506h3v1h-3zM727 507h3v1h-3zM730 508h4v1h-4zM734 509h4v1h-4zM738 510h4v1h-4zM742 511h4v1h-4zM746 512h4v1h-4zM750 513h4v1h-4zM754 514h4v1h-4zM758 515h4v1h-4zM762 516h3v1h-3zM765 517h3v1h-3zM768 518h2v1h-2zM770 519h3v1h-3zM773 520h3v1h-3zM776 521h4v1h-4zM780 522h3v1h-3zM783 523h3v1h-3zM786 524h4v1h-4zM790 525h3v1h-3zM793 526h4v1h-4zM797 527h4v1h-4zM801 528h5v1h-5zM806 529h4v1h-4zM810 530h4v1h-4zM814 531h5v1h-5zM819 532h4v1h-4zM823 533h27v1h-27zM850 534h44v1h-44zM894 535h5v1h-5zM899 536h4v1h-4zM903 537h6v1h-6zM909 538h15v1h-15zM924 537h4v1h-4zM928 536h5v1h-5zM933 535h4v1h-4zM937 534h4v1h-4zM941 533h3v1h-3zM944 532h2v1h-2zM946 531h6v1h-6zM952 530h6v1h-6zM958 529h4v1h-4zM962 528h4v1h-4zM966 527h4v1h-4zM970 526h3v1h-3zM973 525h3v1h-3zM976 524h2v1h-2zM978 523h3v1h-3zM981 522h3v1h-3zM984 521h2v1h-2zM986 520h4v1h-4zM990 519h4v1h-4zM994 518h2v1h-2z" fill="#000"/>
<rect x="2" y="2" width="1015" height="1" fill="#000"/>
<rect x="2" y="2" width="1" height="374" fill="#000"/>
<rect x="2" y="375" width="1015" height="1" fill="#000"/>
<rect x="2" y="377" width="1015" height="1" fill="#000"/>
<rect x="2" y="377" width="1" height="187" fill="#000"/>
<rect x="2" y="563" width="1015" height="1" fill="#000"/>
<rect x="1016" y="2" width="1" height="374" fill="#000"/>
<rect x="1016" y="377" width="1" height="187" fill="#000"/>
<rect x="1017" y="379" width="1" height="1" fill="#000"/>
<rect x="1017" y="9" width="2" height="1" fill="#000"/>
<rect x="1017" y="42" width="2" height="1" fill="#000"/>
<rect x="1017" y="75" width="2" height="1" fill="#000"/>
<rect x="1017" y="108" width="2" height="1" fill="#000"/>
<rect x="1017" y="141" width="2" height="1" fill="#000"/>
<rect x="1017" y="174" width="2" height="1" fill="#000"/>
<rect x="1017" y="207" width="2" height="1" fill="#000"/>
<rect x="1017" y="240" width="2" height="1" fill="#000"/>
<rect x="1017" y="273" width="2" height="1" fill="#000"/>
<rect x="1017" y="306" width="2" height="1" fill="#000"/>
<rect x="1017" y="339" width="2" height="1" fill="#000"/>
<rect x="1017" y="372" width="2" height="1" fill="#000"/>
<rect x="1017" y="535" width="2" height="1" fill="#000"/>
<rect x="3" y="564" width="1" height="3" fill="#000"/>
<rect x="67" y="564" width="1" height="3" fill="#000"/>
<rect x="131" y="564" width="1" height="3" fill="#000"/>
<rect x="195" y="564" width="1" height="3" fill="#000"/>
<rect x="259" y="564" width="1" height="3" fill="#000"/>
<rect x="323" y="564" width="1" height="3" fill="#000"/>
<rect x="387" y="564" width="1" height="3" fill="#000"/>
<rect x="451" y="564" width="1" height="3" fill="#000"/>
<rect x="515" y="564" width="1" height="3" fill="#000"/>
<rect x="579" y="564" width="1" height="3" fill="#000"/>
<rect x="643" y="564" width="1" height="3" fill="#000"/>
<rect x="707" y="564" width="1" height="3" fill="#000"/>
<rect x="771" y="564" width="1" height="3" fill="#000"/>
<rect x="835" y="564" width="1" height="3" fill="#000"/>
<rect x="899" y="564" width="1" height="3" fill="#000"/>
<rect x="963" y="564" width="1" height="3" fill="#000"/>
</g>
<text x="1022" y="244" textLength="25" lengthAdjust="spacingAndGlyphs">28872</text>
<g shape-rendering="crispEdges">
<rect x="1018" y="25" width="33" height="11" fill="#000"/>
<rect x="1018" y="232" width="33" height="11" fill="#ff0000"/>
</g>
<text x="1022" y="13" xml:space="preserve" textLength="25" lengthAdjust="spacingAndGlyphs">30347</text>
<text x="1022" y="46" xml:space="preserve" textLength="25" lengthAdjust="spacingAndGlyphs">30137</text>
<text x="1022" y="79" xml:space="preserve" textLength="25" lengthAdjust="spacingAndGlyphs">29927</text>
<text x="1022" y="112" xml:space="preserve" textLength="25" lengthAdjust="spacingAndGlyphs">29717</text>
<text x="1022" y="145" xml:space="preserve" textLength="25" lengthAdjust="spacingAndGlyphs">29507</text>
<text x="1022" y="178" xml:space="preserve" textLength="25" lengthAdjust="spacingAndGlyphs">29292</text>
<text x="1022" y="211" xml:space="preserve" textLength="25" lengthAdjust="spacingAndGlyphs">29082</text>
<text x="1022" y="277" xml:space="preserve" textLength="25" lengthAdjust="spacingAndGlyphs">28662</text>
<text x="1022" y="310" xml:space="preserve" textLength="25" lengthAdjust="spacingAndGlyphs">28447</text>
<text x="1022" y="343" xml:space="preserve" textLength="25" lengthAdjust="spacingAndGlyphs">28237</text>
<text x="1022" y="376" xml:space="preserve" textLength="25" lengthAdjust="spacingAndGlyphs">28027</text>
<text x="1022" y="34" xml:space="preserve" textLength="25" lengthAdjust="spacingAndGlyphs" fill="#fff" style="fill:#fff;stroke:#fff">30214</text>
<text x="1022" y="241" xml:space="preserve" textLength="25" lengthAdjust="spacingAndGlyphs" fill="#fff" style="fill:#fff;stroke:#fff">28886</text>
<text x="1020" y="388" xml:space="preserve" textLength="23" lengthAdjust="spacingAndGlyphs">511.5</text>
<text x="1020.5" y="539" xml:space="preserve" textLength="17" lengthAdjust="spacingAndGlyphs">0.00</text>
<text x="1020.5" y="560" xml:space="preserve" textLength="20.5" lengthAdjust="spacingAndGlyphs">-88.8</text>
<text x="7.2" y="14" xml:space="preserve" textLength="50.5" lengthAdjust="spacingAndGlyphs">YMCash,H4</text>
<text x="63.6" y="14" xml:space="preserve" textLength="25" lengthAdjust="spacingAndGlyphs">30256</text>
<text x="91.3" y="14" xml:space="preserve" textLength="25" lengthAdjust="spacingAndGlyphs">30274</text>
<text x="119.0" y="14" xml:space="preserve" textLength="25" lengthAdjust="spacingAndGlyphs">30169</text>
<text x="147.1" y="14" xml:space="preserve" textLength="25" lengthAdjust="spacingAndGlyphs">30214</text>
<text x="7.5" y="390" xml:space="preserve" textLength="170" lengthAdjust="spacingAndGlyphs">MACD(12,26,9) 92.7 57.3  -&gt;MA(1) 92.7</text>
<text x="2" y="576" xml:space="preserve" textLength="49.5" lengthAdjust="spacingAndGlyphs">6 Nov 2020</text>
<text x="66" y="576" xml:space="preserve" textLength="52.5" lengthAdjust="spacingAndGlyphs">9 Nov 12:00</text>
<text x="130" y="576" xml:space="preserve" textLength="57.5" lengthAdjust="spacingAndGlyphs">10 Nov 20:00</text>
<text x="194" y="576" xml:space="preserve" textLength="57.5" lengthAdjust="spacingAndGlyphs">12 Nov 04:00</text>
<text x="258" y="576" xml:space="preserve" textLength="57.5" lengthAdjust="spacingAndGlyphs">13 Nov 12:00</text>
<text x="322" y="576" xml:space="preserve" textLength="57.5" lengthAdjust="spacingAndGlyphs">16 Nov 20:00</text>
<text x="386" y="576" xml:space="preserve" textLength="57.5" lengthAdjust="spacingAndGlyphs">18 Nov 04:00</text>
<text x="450" y="576" xml:space="preserve" textLength="57.5" lengthAdjust="spacingAndGlyphs">19 Nov 12:00</text>
<text x="514" y="576" xml:space="preserve" textLength="57.5" lengthAdjust="spacingAndGlyphs">20 Nov 20:00</text>
<text x="578" y="576" xml:space="preserve" textLength="57.5" lengthAdjust="spacingAndGlyphs">24 Nov 04:00</text>
<text x="642" y="576" xml:space="preserve" textLength="57.5" lengthAdjust="spacingAndGlyphs">25 Nov 12:00</text>
<text x="706" y="576" xml:space="preserve" textLength="57.5" lengthAdjust="spacingAndGlyphs">27 Nov 00:00</text>
<text x="770" y="576" xml:space="preserve" textLength="57.5" lengthAdjust="spacingAndGlyphs">30 Nov 08:00</text>
<text x="834" y="576" xml:space="preserve" textLength="50.5" lengthAdjust="spacingAndGlyphs">1 Dec 16:00</text>
<text x="898" y="576" xml:space="preserve" textLength="50.5" lengthAdjust="spacingAndGlyphs">3 Dec 00:00</text>
<text x="962" y="576" xml:space="preserve" textLength="50.5" lengthAdjust="spacingAndGlyphs">4 Dec 08:00</text>
</svg></body></html>
